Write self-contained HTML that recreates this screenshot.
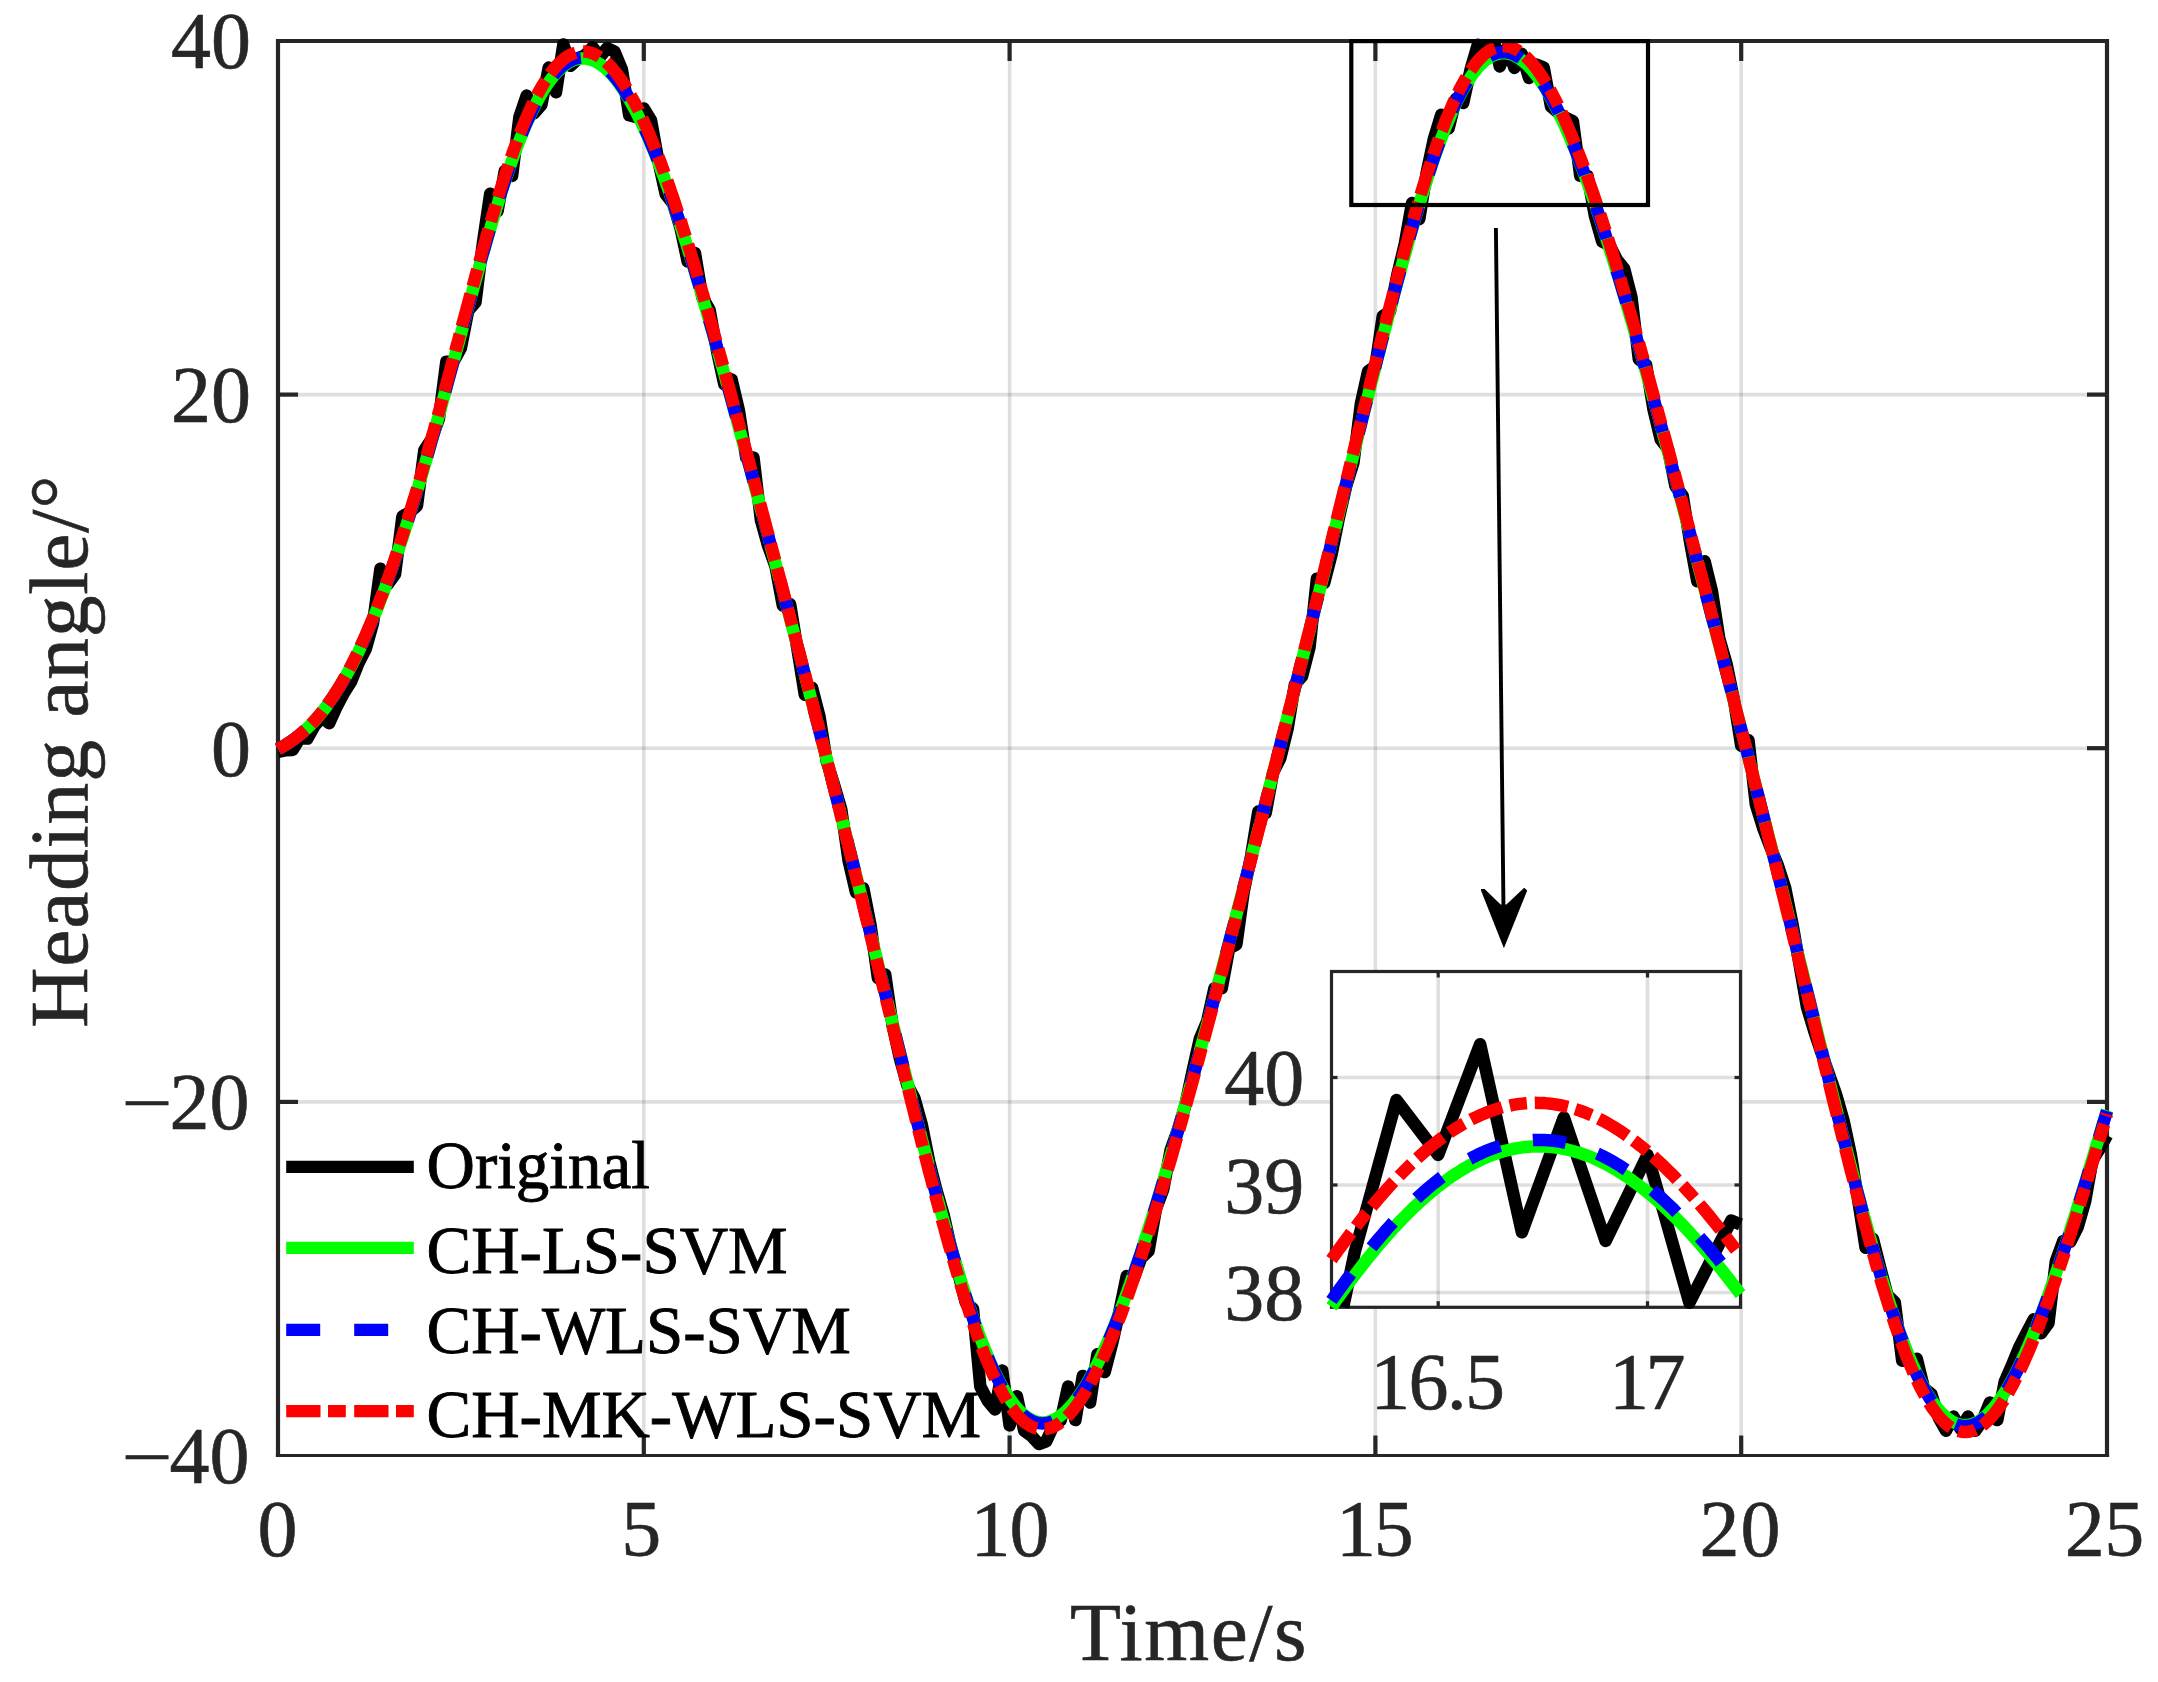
<!DOCTYPE html>
<html><head><meta charset="utf-8"><title>Heading angle</title>
<style>html,body{margin:0;padding:0;background:#fff;overflow:hidden}svg{display:block}</style></head>
<body>
<svg width="2158" height="1682" viewBox="0 0 2158 1682">
<rect width="2158" height="1682" fill="#fff"/>
<g stroke="#262626" stroke-opacity="0.15" stroke-width="3.6" fill="none">
<line x1="643.8" y1="41.0" x2="643.8" y2="1455.5"/>
<line x1="1009.6" y1="41.0" x2="1009.6" y2="1455.5"/>
<line x1="1375.4" y1="41.0" x2="1375.4" y2="1455.5"/>
<line x1="1741.2" y1="41.0" x2="1741.2" y2="1455.5"/>
<line x1="278.0" y1="394.6" x2="2107.0" y2="394.6"/>
<line x1="278.0" y1="748.2" x2="2107.0" y2="748.2"/>
<line x1="278.0" y1="1101.9" x2="2107.0" y2="1101.9"/>
</g>
<g stroke="#262626" stroke-width="4.2" fill="none">
<path d="M278.0 1457.0 V41.0 H2107.0 V1457.0"/>
<line x1="275.9" y1="1455.50" x2="2109.1" y2="1455.50" stroke-width="3.1"/>
<line x1="643.8" y1="1455.5" x2="643.8" y2="1435.5"/>
<line x1="643.8" y1="41.0" x2="643.8" y2="61.0"/>
<line x1="1009.6" y1="1455.5" x2="1009.6" y2="1435.5"/>
<line x1="1009.6" y1="41.0" x2="1009.6" y2="61.0"/>
<line x1="1375.4" y1="1455.5" x2="1375.4" y2="1435.5"/>
<line x1="1375.4" y1="41.0" x2="1375.4" y2="61.0"/>
<line x1="1741.2" y1="1455.5" x2="1741.2" y2="1435.5"/>
<line x1="1741.2" y1="41.0" x2="1741.2" y2="61.0"/>
<line x1="278.0" y1="394.6" x2="298.0" y2="394.6"/>
<line x1="2107.0" y1="394.6" x2="2087.0" y2="394.6"/>
<line x1="278.0" y1="748.2" x2="298.0" y2="748.2"/>
<line x1="2107.0" y1="748.2" x2="2087.0" y2="748.2"/>
<line x1="278.0" y1="1101.9" x2="298.0" y2="1101.9"/>
<line x1="2107.0" y1="1101.9" x2="2087.0" y2="1101.9"/>
</g>
<g fill="none" stroke-width="12.5" stroke-linejoin="round">
<path stroke="#000" d="M278.0 751.8 L285.3 750.3 L292.6 749.9 L299.9 738.0 L307.3 738.6 L314.6 725.7 L321.9 717.1 L329.2 723.3 L336.5 707.0 L343.8 693.1 L351.2 681.4 L358.5 663.1 L365.8 648.9 L373.1 622.7 L380.4 568.8 L387.7 584.3 L395.1 574.0 L402.4 516.5 L409.7 512.2 L417.0 505.8 L424.3 450.2 L431.6 439.2 L439.0 418.3 L446.3 361.7 L453.6 361.4 L460.9 348.0 L468.2 310.8 L475.5 302.3 L482.8 243.7 L490.2 193.7 L497.5 211.4 L504.8 170.8 L512.1 175.9 L519.4 117.0 L526.7 95.6 L534.1 113.2 L541.4 104.9 L548.7 67.6 L556.0 92.3 L563.3 44.5 L570.6 65.8 L578.0 58.7 L585.3 55.1 L592.6 47.2 L599.9 56.9 L607.2 48.1 L614.5 51.6 L621.9 69.3 L629.2 115.3 L636.5 117.1 L643.8 108.5 L651.1 120.6 L658.4 161.1 L665.7 194.2 L673.1 203.8 L680.4 227.6 L687.7 261.6 L695.0 253.1 L702.3 297.2 L709.6 309.9 L717.0 351.0 L724.3 384.3 L731.6 379.3 L738.9 410.5 L746.2 457.8 L753.5 457.6 L760.9 520.1 L768.2 546.2 L775.5 566.3 L782.8 605.5 L790.1 604.1 L797.4 649.1 L804.8 694.8 L812.1 687.8 L819.4 716.0 L826.7 761.2 L834.0 784.6 L841.3 809.6 L848.6 860.9 L856.0 892.4 L863.3 888.3 L870.6 925.4 L877.9 978.1 L885.2 974.4 L892.5 1024.9 L899.9 1058.3 L907.2 1084.8 L914.5 1098.3 L921.8 1124.7 L929.1 1161.3 L936.4 1190.0 L943.8 1215.5 L951.1 1248.0 L958.4 1273.4 L965.7 1302.6 L973.0 1308.7 L980.3 1386.5 L987.7 1400.7 L995.0 1409.5 L1002.3 1370.6 L1009.6 1425.4 L1016.9 1396.3 L1024.2 1430.7 L1031.5 1436.1 L1038.9 1444.0 L1046.2 1441.4 L1053.5 1425.4 L1060.8 1420.1 L1068.1 1386.5 L1075.4 1420.1 L1082.8 1375.9 L1090.1 1402.5 L1097.4 1354.2 L1104.7 1372.1 L1112.0 1344.0 L1119.3 1311.9 L1126.7 1276.0 L1134.0 1277.5 L1141.3 1257.9 L1148.6 1251.0 L1155.9 1209.2 L1163.2 1189.5 L1170.6 1150.2 L1177.9 1129.7 L1185.2 1105.8 L1192.5 1071.2 L1199.8 1038.9 L1207.1 1021.5 L1214.4 988.4 L1221.8 988.2 L1229.1 948.5 L1236.4 944.5 L1243.7 891.7 L1251.0 856.5 L1258.3 811.6 L1265.7 813.1 L1273.0 772.8 L1280.3 758.2 L1287.6 728.7 L1294.9 684.3 L1302.2 676.0 L1309.6 646.9 L1316.9 578.7 L1324.2 583.0 L1331.5 554.8 L1338.8 518.3 L1346.1 486.5 L1353.5 462.3 L1360.8 404.2 L1368.1 371.1 L1375.4 366.3 L1382.7 316.3 L1390.0 311.4 L1397.3 275.0 L1404.7 244.3 L1412.0 203.0 L1419.3 219.1 L1426.6 173.0 L1433.9 138.8 L1441.2 114.7 L1448.6 128.4 L1455.9 98.9 L1463.2 102.9 L1470.5 69.8 L1477.8 44.7 L1485.1 53.7 L1490.3 41.0 M1493.8 41.0 L1499.8 66.5 L1507.1 47.5 L1514.4 67.9 L1521.7 53.7 L1529.0 78.0 L1536.4 64.5 L1543.7 67.5 L1551.0 106.6 L1558.3 112.8 L1565.6 117.8 L1572.9 121.1 L1580.2 175.7 L1587.6 176.0 L1594.9 216.1 L1602.2 241.6 L1609.5 245.0 L1616.8 259.6 L1624.1 268.6 L1631.5 297.2 L1638.8 359.3 L1646.1 364.8 L1653.4 409.1 L1660.7 439.5 L1668.0 449.0 L1675.4 486.1 L1682.7 495.7 L1690.0 541.5 L1697.3 581.3 L1704.6 561.2 L1711.9 591.0 L1719.3 638.8 L1726.6 663.9 L1733.9 699.7 L1741.2 745.8 L1748.5 740.2 L1755.8 804.3 L1763.1 828.0 L1770.5 847.3 L1777.8 865.2 L1785.1 887.6 L1792.4 923.7 L1799.7 965.5 L1807.0 1007.3 L1814.4 1031.7 L1821.7 1053.5 L1829.0 1074.3 L1836.3 1095.1 L1843.6 1120.8 L1850.9 1155.0 L1858.3 1200.8 L1865.6 1247.7 L1872.9 1238.8 L1880.2 1267.6 L1887.5 1295.3 L1894.8 1302.2 L1902.2 1360.7 L1909.5 1360.1 L1916.8 1358.8 L1924.1 1388.4 L1931.4 1394.2 L1938.7 1417.6 L1946.0 1430.7 L1953.4 1416.6 L1960.7 1429.0 L1968.0 1416.6 L1975.3 1430.7 L1982.6 1420.1 L1989.9 1402.5 L1997.3 1420.1 L2004.6 1382.1 L2011.9 1365.2 L2019.2 1347.3 L2026.5 1333.1 L2033.8 1319.2 L2041.2 1333.2 L2048.5 1323.0 L2055.8 1261.4 L2063.1 1241.3 L2070.4 1241.6 L2077.7 1227.2 L2085.1 1201.6 L2092.4 1160.5 L2099.7 1148.8 L2107.0 1135.2"/>
<path stroke="#0f0" d="M278.0 749.1 L279.8 748.1 L281.7 747.1 L283.5 746.1 L285.3 745.0 L287.1 743.9 L289.0 742.7 L290.8 741.5 L292.6 740.2 L294.5 738.9 L296.3 737.5 L298.1 736.1 L299.9 734.6 L301.8 733.1 L303.6 731.5 L305.4 729.9 L307.3 728.2 L309.1 726.4 L310.9 724.6 L312.8 722.7 L314.6 720.7 L316.4 718.7 L318.2 716.6 L320.1 714.4 L321.9 712.2 L323.7 709.9 L325.6 707.5 L327.4 705.1 L329.2 702.5 L331.0 699.9 L332.9 697.3 L334.7 694.5 L336.5 691.7 L338.4 688.8 L340.2 685.8 L342.0 682.8 L343.8 679.6 L345.7 676.4 L347.5 673.1 L349.3 669.8 L351.2 666.3 L353.0 662.8 L354.8 659.2 L356.6 655.5 L358.5 651.7 L360.3 647.9 L362.1 643.9 L364.0 639.9 L365.8 635.8 L367.6 631.7 L369.4 627.4 L371.3 623.1 L373.1 618.7 L374.9 614.2 L376.8 609.7 L378.6 605.0 L380.4 600.3 L382.3 595.5 L384.1 590.7 L385.9 585.7 L387.7 580.7 L389.6 575.6 L391.4 570.5 L393.2 565.2 L395.1 559.9 L396.9 554.6 L398.7 549.1 L400.5 543.6 L402.4 538.1 L404.2 532.4 L406.0 526.7 L407.9 521.0 L409.7 515.1 L411.5 509.3 L413.3 503.3 L415.2 497.3 L417.0 491.3 L418.8 485.1 L420.7 479.0 L422.5 472.8 L424.3 466.5 L426.1 460.2 L428.0 453.9 L429.8 447.5 L431.6 441.0 L433.5 434.5 L435.3 428.0 L437.1 421.5 L439.0 414.9 L440.8 408.3 L442.6 401.6 L444.4 395.0 L446.3 388.3 L448.1 381.6 L449.9 374.8 L451.8 368.1 L453.6 361.3 L455.4 354.6 L457.2 347.8 L459.1 341.0 L460.9 334.3 L462.7 327.5 L464.6 320.7 L466.4 314.0 L468.2 307.3 L470.0 300.5 L471.9 293.8 L473.7 287.2 L475.5 280.5 L477.4 273.9 L479.2 267.4 L481.0 260.9 L482.8 254.4 L484.7 248.0 L486.5 241.6 L488.3 235.3 L490.2 229.0 L492.0 222.8 L493.8 216.7 L495.7 210.7 L497.5 204.8 L499.3 198.9 L501.1 193.1 L503.0 187.4 L504.8 181.8 L506.6 176.3 L508.5 170.9 L510.3 165.6 L512.1 160.5 L513.9 155.4 L515.8 150.4 L517.6 145.6 L519.4 140.8 L521.3 136.2 L523.1 131.7 L524.9 127.4 L526.7 123.1 L528.6 119.0 L530.4 115.0 L532.2 111.2 L534.1 107.5 L535.9 103.9 L537.7 100.4 L539.5 97.1 L541.4 93.9 L543.2 90.8 L545.0 87.9 L546.9 85.1 L548.7 82.5 L550.5 80.0 L552.3 77.6 L554.2 75.4 L556.0 73.3 L557.8 71.4 L559.7 69.6 L561.5 67.9 L563.3 66.4 L565.2 65.0 L567.0 63.7 L568.8 62.6 L570.6 61.6 L572.5 60.7 L574.3 60.0 L576.1 59.5 L578.0 59.0 L579.8 58.7 L581.6 58.5 L583.4 58.5 L585.3 58.6 L587.1 58.8 L588.9 59.2 L590.8 59.7 L592.6 60.3 L594.4 61.1 L596.2 61.9 L598.1 63.0 L599.9 64.1 L601.7 65.4 L603.6 66.8 L605.4 68.3 L607.2 70.0 L609.0 71.7 L610.9 73.6 L612.7 75.6 L614.5 77.8 L616.4 80.1 L618.2 82.4 L620.0 84.9 L621.9 87.6 L623.7 90.3 L625.5 93.2 L627.3 96.1 L629.2 99.2 L631.0 102.4 L632.8 105.7 L634.7 109.1 L636.5 112.6 L638.3 116.2 L640.1 120.0 L642.0 123.8 L643.8 127.7 L645.6 131.7 L647.5 135.9 L649.3 140.1 L651.1 144.4 L652.9 148.8 L654.8 153.3 L656.6 157.9 L658.4 162.6 L660.3 167.4 L662.1 172.3 L663.9 177.2 L665.7 182.2 L667.6 187.3 L669.4 192.5 L671.2 197.8 L673.1 203.1 L674.9 208.5 L676.7 214.0 L678.6 219.5 L680.4 225.1 L682.2 230.8 L684.0 236.5 L685.9 242.3 L687.7 248.1 L689.5 254.0 L691.4 260.0 L693.2 266.0 L695.0 272.1 L696.8 278.2 L698.7 284.3 L700.5 290.5 L702.3 296.7 L704.2 303.0 L706.0 309.3 L707.8 315.6 L709.6 322.0 L711.5 328.4 L713.3 334.8 L715.1 341.3 L717.0 347.8 L718.8 354.3 L720.6 360.8 L722.4 367.4 L724.3 374.0 L726.1 380.6 L727.9 387.2 L729.8 393.9 L731.6 400.5 L733.4 407.2 L735.2 413.9 L737.1 420.6 L738.9 427.3 L740.7 434.1 L742.6 440.8 L744.4 447.6 L746.2 454.3 L748.1 461.1 L749.9 467.9 L751.7 474.7 L753.5 481.5 L755.4 488.3 L757.2 495.1 L759.0 502.0 L760.9 508.8 L762.7 515.6 L764.5 522.5 L766.3 529.3 L768.2 536.2 L770.0 543.0 L771.8 549.9 L773.7 556.7 L775.5 563.6 L777.3 570.5 L779.1 577.4 L781.0 584.2 L782.8 591.1 L784.6 598.0 L786.5 604.9 L788.3 611.8 L790.1 618.8 L791.9 625.7 L793.8 632.6 L795.6 639.5 L797.4 646.5 L799.3 653.4 L801.1 660.4 L802.9 667.4 L804.8 674.4 L806.6 681.4 L808.4 688.4 L810.2 695.4 L812.1 702.4 L813.9 709.5 L815.7 716.5 L817.6 723.6 L819.4 730.7 L821.2 737.8 L823.0 744.9 L824.9 752.0 L826.7 759.1 L828.5 766.3 L830.4 773.4 L832.2 780.6 L834.0 787.8 L835.8 795.0 L837.7 802.2 L839.5 809.4 L841.3 816.7 L843.2 823.9 L845.0 831.2 L846.8 838.5 L848.6 845.7 L850.5 853.0 L852.3 860.3 L854.1 867.7 L856.0 875.0 L857.8 882.3 L859.6 889.7 L861.5 897.0 L863.3 904.4 L865.1 911.8 L866.9 919.1 L868.8 926.5 L870.6 933.9 L872.4 941.3 L874.3 948.7 L876.1 956.1 L877.9 963.5 L879.7 970.9 L881.6 978.3 L883.4 985.7 L885.2 993.1 L887.1 1000.5 L888.9 1007.9 L890.7 1015.3 L892.5 1022.7 L894.4 1030.1 L896.2 1037.5 L898.0 1044.9 L899.9 1052.2 L901.7 1059.6 L903.5 1066.9 L905.3 1074.2 L907.2 1081.5 L909.0 1088.8 L910.8 1096.1 L912.7 1103.3 L914.5 1110.6 L916.3 1117.8 L918.1 1124.9 L920.0 1132.1 L921.8 1139.2 L923.6 1146.3 L925.5 1153.3 L927.3 1160.4 L929.1 1167.3 L931.0 1174.3 L932.8 1181.2 L934.6 1188.0 L936.4 1194.9 L938.3 1201.6 L940.1 1208.3 L941.9 1215.0 L943.8 1221.6 L945.6 1228.1 L947.4 1234.6 L949.2 1241.0 L951.1 1247.4 L952.9 1253.7 L954.7 1259.9 L956.6 1266.0 L958.4 1272.1 L960.2 1278.1 L962.0 1284.0 L963.9 1289.8 L965.7 1295.5 L967.5 1301.1 L969.4 1306.7 L971.2 1312.1 L973.0 1317.4 L974.8 1322.7 L976.7 1327.8 L978.5 1332.8 L980.3 1337.7 L982.2 1342.5 L984.0 1347.1 L985.8 1351.6 L987.7 1356.0 L989.5 1360.3 L991.3 1364.5 L993.1 1368.5 L995.0 1372.4 L996.8 1376.1 L998.6 1379.7 L1000.5 1383.2 L1002.3 1386.5 L1004.1 1389.7 L1005.9 1392.7 L1007.8 1395.6 L1009.6 1398.4 L1011.4 1401.0 L1013.3 1403.4 L1015.1 1405.8 L1016.9 1407.9 L1018.7 1409.9 L1020.6 1411.8 L1022.4 1413.5 L1024.2 1415.0 L1026.1 1416.4 L1027.9 1417.7 L1029.7 1418.8 L1031.5 1419.8 L1033.4 1420.6 L1035.2 1421.2 L1037.0 1421.7 L1038.9 1422.1 L1040.7 1422.3 L1042.5 1422.4 L1044.4 1422.3 L1046.2 1422.1 L1048.0 1421.8 L1049.8 1421.3 L1051.7 1420.6 L1053.5 1419.9 L1055.3 1419.0 L1057.2 1417.9 L1059.0 1416.7 L1060.8 1415.4 L1062.6 1414.0 L1064.5 1412.4 L1066.3 1410.8 L1068.1 1408.9 L1070.0 1407.0 L1071.8 1404.9 L1073.6 1402.7 L1075.4 1400.4 L1077.3 1398.0 L1079.1 1395.5 L1080.9 1392.8 L1082.8 1390.0 L1084.6 1387.1 L1086.4 1384.1 L1088.2 1381.0 L1090.1 1377.8 L1091.9 1374.5 L1093.7 1371.0 L1095.6 1367.5 L1097.4 1363.9 L1099.2 1360.2 L1101.1 1356.3 L1102.9 1352.4 L1104.7 1348.4 L1106.5 1344.3 L1108.4 1340.1 L1110.2 1335.8 L1112.0 1331.4 L1113.9 1326.9 L1115.7 1322.4 L1117.5 1317.8 L1119.3 1313.1 L1121.2 1308.3 L1123.0 1303.4 L1124.8 1298.5 L1126.7 1293.5 L1128.5 1288.4 L1130.3 1283.3 L1132.1 1278.1 L1134.0 1272.8 L1135.8 1267.4 L1137.6 1262.0 L1139.5 1256.6 L1141.3 1251.1 L1143.1 1245.5 L1144.9 1239.9 L1146.8 1234.2 L1148.6 1228.4 L1150.4 1222.6 L1152.3 1216.8 L1154.1 1210.9 L1155.9 1205.0 L1157.7 1199.0 L1159.6 1193.0 L1161.4 1186.9 L1163.2 1180.8 L1165.1 1174.7 L1166.9 1168.5 L1168.7 1162.3 L1170.6 1156.0 L1172.4 1149.7 L1174.2 1143.4 L1176.0 1137.0 L1177.9 1130.6 L1179.7 1124.2 L1181.5 1117.7 L1183.4 1111.2 L1185.2 1104.7 L1187.0 1098.2 L1188.8 1091.6 L1190.7 1085.0 L1192.5 1078.4 L1194.3 1071.8 L1196.2 1065.1 L1198.0 1058.5 L1199.8 1051.8 L1201.6 1045.0 L1203.5 1038.3 L1205.3 1031.5 L1207.1 1024.8 L1209.0 1018.0 L1210.8 1011.2 L1212.6 1004.3 L1214.4 997.5 L1216.3 990.7 L1218.1 983.8 L1219.9 976.9 L1221.8 970.0 L1223.6 963.1 L1225.4 956.2 L1227.3 949.3 L1229.1 942.4 L1230.9 935.4 L1232.7 928.5 L1234.6 921.5 L1236.4 914.5 L1238.2 907.5 L1240.1 900.5 L1241.9 893.5 L1243.7 886.5 L1245.5 879.5 L1247.4 872.5 L1249.2 865.5 L1251.0 858.5 L1252.9 851.4 L1254.7 844.4 L1256.5 837.3 L1258.3 830.3 L1260.2 823.2 L1262.0 816.1 L1263.8 809.1 L1265.7 802.0 L1267.5 794.9 L1269.3 787.8 L1271.1 780.7 L1273.0 773.6 L1274.8 766.5 L1276.6 759.4 L1278.5 752.3 L1280.3 745.2 L1282.1 738.0 L1284.0 730.9 L1285.8 723.8 L1287.6 716.6 L1289.4 709.5 L1291.3 702.3 L1293.1 695.2 L1294.9 688.0 L1296.8 680.8 L1298.6 673.7 L1300.4 666.5 L1302.2 659.3 L1304.1 652.1 L1305.9 644.8 L1307.7 637.6 L1309.6 630.4 L1311.4 623.2 L1313.2 615.9 L1315.0 608.6 L1316.9 601.4 L1318.7 594.1 L1320.5 586.8 L1322.4 579.5 L1324.2 572.2 L1326.0 564.9 L1327.8 557.6 L1329.7 550.3 L1331.5 542.9 L1333.3 535.6 L1335.2 528.2 L1337.0 520.9 L1338.8 513.5 L1340.6 506.2 L1342.5 498.8 L1344.3 491.4 L1346.1 484.1 L1348.0 476.7 L1349.8 469.3 L1351.6 462.0 L1353.5 454.6 L1355.3 447.2 L1357.1 439.9 L1358.9 432.5 L1360.8 425.2 L1362.6 417.8 L1364.4 410.5 L1366.3 403.2 L1368.1 395.9 L1369.9 388.6 L1371.7 381.3 L1373.6 374.1 L1375.4 366.9 L1377.2 359.6 L1379.1 352.5 L1380.9 345.3 L1382.7 338.2 L1384.5 331.0 L1386.4 324.0 L1388.2 316.9 L1390.0 309.9 L1391.9 302.9 L1393.7 296.0 L1395.5 289.1 L1397.3 282.3 L1399.2 275.5 L1401.0 268.7 L1402.8 262.0 L1404.7 255.4 L1406.5 248.8 L1408.3 242.3 L1410.2 235.8 L1412.0 229.4 L1413.8 223.1 L1415.6 216.8 L1417.5 210.7 L1419.3 204.6 L1421.1 198.5 L1423.0 192.6 L1424.8 186.7 L1426.6 181.0 L1428.4 175.3 L1430.3 169.7 L1432.1 164.3 L1433.9 158.9 L1435.8 153.6 L1437.6 148.5 L1439.4 143.4 L1441.2 138.5 L1443.1 133.7 L1444.9 129.0 L1446.7 124.4 L1448.6 120.0 L1450.4 115.7 L1452.2 111.5 L1454.0 107.5 L1455.9 103.6 L1457.7 99.8 L1459.5 96.2 L1461.4 92.7 L1463.2 89.3 L1465.0 86.1 L1466.9 83.1 L1468.7 80.2 L1470.5 77.4 L1472.3 74.8 L1474.2 72.3 L1476.0 70.0 L1477.8 67.8 L1479.7 65.8 L1481.5 63.9 L1483.3 62.2 L1485.1 60.6 L1487.0 59.2 L1488.8 57.9 L1490.6 56.8 L1492.5 55.9 L1494.3 55.0 L1496.1 54.4 L1497.9 53.9 L1499.8 53.5 L1501.6 53.3 L1503.4 53.2 L1505.3 53.2 L1507.1 53.5 L1508.9 53.8 L1510.7 54.3 L1512.6 54.9 L1514.4 55.7 L1516.2 56.6 L1518.1 57.7 L1519.9 58.8 L1521.7 60.2 L1523.5 61.6 L1525.4 63.2 L1527.2 64.9 L1529.0 66.7 L1530.9 68.7 L1532.7 70.8 L1534.5 73.0 L1536.4 75.3 L1538.2 77.7 L1540.0 80.3 L1541.8 83.0 L1543.7 85.8 L1545.5 88.7 L1547.3 91.7 L1549.2 94.9 L1551.0 98.1 L1552.8 101.5 L1554.6 104.9 L1556.5 108.5 L1558.3 112.2 L1560.1 115.9 L1562.0 119.8 L1563.8 123.7 L1565.6 127.8 L1567.4 131.9 L1569.3 136.2 L1571.1 140.5 L1572.9 144.9 L1574.8 149.4 L1576.6 154.0 L1578.4 158.6 L1580.2 163.4 L1582.1 168.2 L1583.9 173.1 L1585.7 178.0 L1587.6 183.1 L1589.4 188.2 L1591.2 193.3 L1593.1 198.6 L1594.9 203.9 L1596.7 209.3 L1598.5 214.7 L1600.4 220.2 L1602.2 225.7 L1604.0 231.3 L1605.9 237.0 L1607.7 242.7 L1609.5 248.4 L1611.3 254.2 L1613.2 260.1 L1615.0 266.0 L1616.8 271.9 L1618.7 277.9 L1620.5 284.0 L1622.3 290.0 L1624.1 296.2 L1626.0 302.3 L1627.8 308.5 L1629.6 314.7 L1631.5 321.0 L1633.3 327.3 L1635.1 333.6 L1636.9 340.0 L1638.8 346.4 L1640.6 352.8 L1642.4 359.3 L1644.3 365.7 L1646.1 372.2 L1647.9 378.8 L1649.8 385.3 L1651.6 391.9 L1653.4 398.5 L1655.2 405.1 L1657.1 411.8 L1658.9 418.4 L1660.7 425.1 L1662.6 431.8 L1664.4 438.5 L1666.2 445.2 L1668.0 452.0 L1669.9 458.7 L1671.7 465.5 L1673.5 472.3 L1675.4 479.1 L1677.2 485.9 L1679.0 492.7 L1680.8 499.6 L1682.7 506.4 L1684.5 513.3 L1686.3 520.1 L1688.2 527.0 L1690.0 533.9 L1691.8 540.8 L1693.6 547.7 L1695.5 554.6 L1697.3 561.5 L1699.1 568.5 L1701.0 575.4 L1702.8 582.3 L1704.6 589.3 L1706.4 596.2 L1708.3 603.2 L1710.1 610.2 L1711.9 617.1 L1713.8 624.1 L1715.6 631.1 L1717.4 638.1 L1719.3 645.1 L1721.1 652.1 L1722.9 659.1 L1724.7 666.1 L1726.6 673.1 L1728.4 680.1 L1730.2 687.1 L1732.1 694.2 L1733.9 701.2 L1735.7 708.2 L1737.5 715.3 L1739.4 722.4 L1741.2 729.4 L1743.0 736.5 L1744.9 743.6 L1746.7 750.7 L1748.5 757.7 L1750.3 764.9 L1752.2 772.0 L1754.0 779.1 L1755.8 786.2 L1757.7 793.4 L1759.5 800.5 L1761.3 807.7 L1763.1 814.9 L1765.0 822.0 L1766.8 829.2 L1768.6 836.5 L1770.5 843.7 L1772.3 850.9 L1774.1 858.2 L1776.0 865.4 L1777.8 872.7 L1779.6 880.0 L1781.4 887.3 L1783.3 894.6 L1785.1 902.0 L1786.9 909.3 L1788.8 916.7 L1790.6 924.0 L1792.4 931.4 L1794.2 938.8 L1796.1 946.2 L1797.9 953.6 L1799.7 961.0 L1801.6 968.4 L1803.4 975.8 L1805.2 983.2 L1807.0 990.7 L1808.9 998.1 L1810.7 1005.5 L1812.5 1013.0 L1814.4 1020.4 L1816.2 1027.9 L1818.0 1035.3 L1819.8 1042.7 L1821.7 1050.1 L1823.5 1057.5 L1825.3 1064.9 L1827.2 1072.3 L1829.0 1079.7 L1830.8 1087.1 L1832.6 1094.4 L1834.5 1101.8 L1836.3 1109.1 L1838.1 1116.4 L1840.0 1123.7 L1841.8 1130.9 L1843.6 1138.1 L1845.5 1145.3 L1847.3 1152.5 L1849.1 1159.6 L1850.9 1166.7 L1852.8 1173.7 L1854.6 1180.7 L1856.4 1187.7 L1858.3 1194.6 L1860.1 1201.5 L1861.9 1208.3 L1863.7 1215.0 L1865.6 1221.7 L1867.4 1228.4 L1869.2 1234.9 L1871.1 1241.4 L1872.9 1247.9 L1874.7 1254.2 L1876.5 1260.5 L1878.4 1266.7 L1880.2 1272.9 L1882.0 1278.9 L1883.9 1284.9 L1885.7 1290.7 L1887.5 1296.5 L1889.3 1302.2 L1891.2 1307.7 L1893.0 1313.2 L1894.8 1318.5 L1896.7 1323.8 L1898.5 1328.9 L1900.3 1333.9 L1902.2 1338.9 L1904.0 1343.6 L1905.8 1348.3 L1907.6 1352.9 L1909.5 1357.3 L1911.3 1361.6 L1913.1 1365.7 L1915.0 1369.8 L1916.8 1373.7 L1918.6 1377.4 L1920.4 1381.1 L1922.3 1384.6 L1924.1 1387.9 L1925.9 1391.1 L1927.8 1394.2 L1929.6 1397.2 L1931.4 1400.0 L1933.2 1402.6 L1935.1 1405.1 L1936.9 1407.5 L1938.7 1409.7 L1940.6 1411.8 L1942.4 1413.7 L1944.2 1415.4 L1946.0 1417.1 L1947.9 1418.5 L1949.7 1419.9 L1951.5 1421.0 L1953.4 1422.1 L1955.2 1423.0 L1957.0 1423.7 L1958.9 1424.3 L1960.7 1424.7 L1962.5 1425.0 L1964.3 1425.1 L1966.2 1425.1 L1968.0 1425.0 L1969.8 1424.6 L1971.7 1424.2 L1973.5 1423.6 L1975.3 1422.9 L1977.1 1422.0 L1979.0 1421.0 L1980.8 1419.8 L1982.6 1418.5 L1984.5 1417.1 L1986.3 1415.5 L1988.1 1413.8 L1989.9 1411.9 L1991.8 1409.9 L1993.6 1407.8 L1995.4 1405.6 L1997.3 1403.2 L1999.1 1400.8 L2000.9 1398.1 L2002.7 1395.4 L2004.6 1392.6 L2006.4 1389.6 L2008.2 1386.5 L2010.1 1383.3 L2011.9 1380.0 L2013.7 1376.6 L2015.5 1373.1 L2017.4 1369.5 L2019.2 1365.8 L2021.0 1362.0 L2022.9 1358.1 L2024.7 1354.1 L2026.5 1350.0 L2028.4 1345.8 L2030.2 1341.5 L2032.0 1337.2 L2033.8 1332.7 L2035.7 1328.2 L2037.5 1323.6 L2039.3 1318.9 L2041.2 1314.2 L2043.0 1309.4 L2044.8 1304.5 L2046.6 1299.5 L2048.5 1294.5 L2050.3 1289.4 L2052.1 1284.2 L2054.0 1279.0 L2055.8 1273.7 L2057.6 1268.4 L2059.4 1263.0 L2061.3 1257.6 L2063.1 1252.1 L2064.9 1246.6 L2066.8 1241.0 L2068.6 1235.4 L2070.4 1229.7 L2072.2 1224.0 L2074.1 1218.3 L2075.9 1212.5 L2077.7 1206.7 L2079.6 1200.8 L2081.4 1194.9 L2083.2 1189.0 L2085.1 1183.1 L2086.9 1177.1 L2088.7 1171.1 L2090.5 1165.1 L2092.4 1159.1 L2094.2 1153.0 L2096.0 1147.0 L2097.9 1140.9 L2099.7 1134.8 L2101.5 1128.7 L2103.3 1122.6 L2105.2 1116.4 L2107.0 1110.3"/>
<path stroke="#00f" stroke-dasharray="33.585 33.585" d="M278.0 749.1 L279.8 748.1 L281.7 747.1 L283.5 746.1 L285.3 745.0 L287.1 743.9 L289.0 742.7 L290.8 741.5 L292.6 740.2 L294.5 738.9 L296.3 737.5 L298.1 736.1 L299.9 734.6 L301.8 733.1 L303.6 731.5 L305.4 729.9 L307.3 728.1 L309.1 726.4 L310.9 724.5 L312.8 722.6 L314.6 720.7 L316.4 718.6 L318.2 716.5 L320.1 714.4 L321.9 712.1 L323.7 709.8 L325.6 707.5 L327.4 705.0 L329.2 702.5 L331.0 699.9 L332.9 697.2 L334.7 694.4 L336.5 691.6 L338.4 688.7 L340.2 685.7 L342.0 682.7 L343.8 679.5 L345.7 676.3 L347.5 673.0 L349.3 669.6 L351.2 666.2 L353.0 662.7 L354.8 659.0 L356.6 655.3 L358.5 651.6 L360.3 647.7 L362.1 643.8 L364.0 639.8 L365.8 635.7 L367.6 631.5 L369.4 627.3 L371.3 622.9 L373.1 618.5 L374.9 614.0 L376.8 609.5 L378.6 604.8 L380.4 600.1 L382.3 595.3 L384.1 590.4 L385.9 585.5 L387.7 580.5 L389.6 575.4 L391.4 570.2 L393.2 565.0 L395.1 559.7 L396.9 554.3 L398.7 548.8 L400.5 543.3 L402.4 537.7 L404.2 532.1 L406.0 526.4 L407.9 520.6 L409.7 514.8 L411.5 508.9 L413.3 502.9 L415.2 496.9 L417.0 490.9 L418.8 484.8 L420.7 478.6 L422.5 472.4 L424.3 466.1 L426.1 459.8 L428.0 453.4 L429.8 447.0 L431.6 440.6 L433.5 434.1 L435.3 427.5 L437.1 421.0 L439.0 414.4 L440.8 407.8 L442.6 401.1 L444.4 394.4 L446.3 387.7 L448.1 381.0 L449.9 374.3 L451.8 367.5 L453.6 360.7 L455.4 354.0 L457.2 347.2 L459.1 340.4 L460.9 333.6 L462.7 326.9 L464.6 320.1 L466.4 313.3 L468.2 306.6 L470.0 299.9 L471.9 293.2 L473.7 286.5 L475.5 279.8 L477.4 273.2 L479.2 266.7 L481.0 260.1 L482.8 253.6 L484.7 247.2 L486.5 240.8 L488.3 234.5 L490.2 228.2 L492.0 222.0 L493.8 215.9 L495.7 209.9 L497.5 203.9 L499.3 198.1 L501.1 192.3 L503.0 186.6 L504.8 181.0 L506.6 175.5 L508.5 170.1 L510.3 164.8 L512.1 159.6 L513.9 154.5 L515.8 149.5 L517.6 144.7 L519.4 139.9 L521.3 135.3 L523.1 130.8 L524.9 126.4 L526.7 122.2 L528.6 118.1 L530.4 114.1 L532.2 110.2 L534.1 106.5 L535.9 102.9 L537.7 99.4 L539.5 96.1 L541.4 92.9 L543.2 89.8 L545.0 86.9 L546.9 84.1 L548.7 81.5 L550.5 79.0 L552.3 76.6 L554.2 74.4 L556.0 72.3 L557.8 70.4 L559.7 68.5 L561.5 66.9 L563.3 65.3 L565.2 63.9 L567.0 62.7 L568.8 61.5 L570.6 60.6 L572.5 59.7 L574.3 59.0 L576.1 58.4 L578.0 58.0 L579.8 57.7 L581.6 57.5 L583.4 57.4 L585.3 57.5 L587.1 57.8 L588.9 58.1 L590.8 58.6 L592.6 59.3 L594.4 60.0 L596.2 60.9 L598.1 61.9 L599.9 63.1 L601.7 64.3 L603.6 65.7 L605.4 67.3 L607.2 68.9 L609.0 70.7 L610.9 72.6 L612.7 74.6 L614.5 76.8 L616.4 79.0 L618.2 81.4 L620.0 83.9 L621.9 86.6 L623.7 89.3 L625.5 92.2 L627.3 95.1 L629.2 98.2 L631.0 101.4 L632.8 104.7 L634.7 108.1 L636.5 111.6 L638.3 115.3 L640.1 119.0 L642.0 122.8 L643.8 126.8 L645.6 130.8 L647.5 134.9 L649.3 139.2 L651.1 143.5 L652.9 147.9 L654.8 152.4 L656.6 157.0 L658.4 161.7 L660.3 166.5 L662.1 171.4 L663.9 176.3 L665.7 181.4 L667.6 186.5 L669.4 191.7 L671.2 196.9 L673.1 202.3 L674.9 207.7 L676.7 213.2 L678.6 218.7 L680.4 224.3 L682.2 230.0 L684.0 235.7 L685.9 241.5 L687.7 247.4 L689.5 253.3 L691.4 259.3 L693.2 265.3 L695.0 271.3 L696.8 277.4 L698.7 283.6 L700.5 289.8 L702.3 296.0 L704.2 302.3 L706.0 308.6 L707.8 315.0 L709.6 321.3 L711.5 327.7 L713.3 334.2 L715.1 340.7 L717.0 347.2 L718.8 353.7 L720.6 360.2 L722.4 366.8 L724.3 373.4 L726.1 380.0 L727.9 386.7 L729.8 393.3 L731.6 400.0 L733.4 406.7 L735.2 413.4 L737.1 420.1 L738.9 426.8 L740.7 433.6 L742.6 440.3 L744.4 447.1 L746.2 453.9 L748.1 460.7 L749.9 467.5 L751.7 474.3 L753.5 481.1 L755.4 487.9 L757.2 494.7 L759.0 501.6 L760.9 508.4 L762.7 515.3 L764.5 522.1 L766.3 529.0 L768.2 535.8 L770.0 542.7 L771.8 549.6 L773.7 556.4 L775.5 563.3 L777.3 570.2 L779.1 577.1 L781.0 584.0 L782.8 590.9 L784.6 597.8 L786.5 604.7 L788.3 611.6 L790.1 618.6 L791.9 625.5 L793.8 632.4 L795.6 639.4 L797.4 646.3 L799.3 653.3 L801.1 660.3 L802.9 667.3 L804.8 674.3 L806.6 681.3 L808.4 688.3 L810.2 695.3 L812.1 702.4 L813.9 709.4 L815.7 716.5 L817.6 723.6 L819.4 730.6 L821.2 737.7 L823.0 744.9 L824.9 752.0 L826.7 759.1 L828.5 766.3 L830.4 773.5 L832.2 780.7 L834.0 787.8 L835.8 795.1 L837.7 802.3 L839.5 809.5 L841.3 816.8 L843.2 824.0 L845.0 831.3 L846.8 838.6 L848.6 845.9 L850.5 853.2 L852.3 860.5 L854.1 867.8 L856.0 875.2 L857.8 882.5 L859.6 889.9 L861.5 897.3 L863.3 904.6 L865.1 912.0 L866.9 919.4 L868.8 926.8 L870.6 934.2 L872.4 941.6 L874.3 949.0 L876.1 956.4 L877.9 963.8 L879.7 971.3 L881.6 978.7 L883.4 986.1 L885.2 993.5 L887.1 1000.9 L888.9 1008.3 L890.7 1015.7 L892.5 1023.1 L894.4 1030.5 L896.2 1037.9 L898.0 1045.3 L899.9 1052.7 L901.7 1060.0 L903.5 1067.4 L905.3 1074.7 L907.2 1082.0 L909.0 1089.3 L910.8 1096.6 L912.7 1103.9 L914.5 1111.1 L916.3 1118.3 L918.1 1125.5 L920.0 1132.7 L921.8 1139.8 L923.6 1146.9 L925.5 1154.0 L927.3 1161.0 L929.1 1168.0 L931.0 1174.9 L932.8 1181.8 L934.6 1188.7 L936.4 1195.5 L938.3 1202.3 L940.1 1209.0 L941.9 1215.7 L943.8 1222.3 L945.6 1228.9 L947.4 1235.4 L949.2 1241.8 L951.1 1248.1 L952.9 1254.4 L954.7 1260.7 L956.6 1266.8 L958.4 1272.9 L960.2 1278.9 L962.0 1284.8 L963.9 1290.6 L965.7 1296.3 L967.5 1302.0 L969.4 1307.5 L971.2 1313.0 L973.0 1318.3 L974.8 1323.5 L976.7 1328.7 L978.5 1333.7 L980.3 1338.6 L982.2 1343.4 L984.0 1348.0 L985.8 1352.6 L987.7 1357.0 L989.5 1361.3 L991.3 1365.4 L993.1 1369.4 L995.0 1373.3 L996.8 1377.1 L998.6 1380.7 L1000.5 1384.2 L1002.3 1387.5 L1004.1 1390.7 L1005.9 1393.7 L1007.8 1396.6 L1009.6 1399.4 L1011.4 1402.0 L1013.3 1404.4 L1015.1 1406.7 L1016.9 1408.9 L1018.7 1410.9 L1020.6 1412.8 L1022.4 1414.5 L1024.2 1416.0 L1026.1 1417.5 L1027.9 1418.7 L1029.7 1419.8 L1031.5 1420.8 L1033.4 1421.6 L1035.2 1422.2 L1037.0 1422.8 L1038.9 1423.1 L1040.7 1423.3 L1042.5 1423.4 L1044.4 1423.3 L1046.2 1423.1 L1048.0 1422.8 L1049.8 1422.3 L1051.7 1421.7 L1053.5 1420.9 L1055.3 1420.0 L1057.2 1418.9 L1059.0 1417.8 L1060.8 1416.5 L1062.6 1415.0 L1064.5 1413.5 L1066.3 1411.8 L1068.1 1409.9 L1070.0 1408.0 L1071.8 1405.9 L1073.6 1403.7 L1075.4 1401.4 L1077.3 1399.0 L1079.1 1396.4 L1080.9 1393.8 L1082.8 1391.0 L1084.6 1388.1 L1086.4 1385.1 L1088.2 1382.0 L1090.1 1378.8 L1091.9 1375.4 L1093.7 1372.0 L1095.6 1368.5 L1097.4 1364.8 L1099.2 1361.1 L1101.1 1357.2 L1102.9 1353.3 L1104.7 1349.3 L1106.5 1345.2 L1108.4 1341.0 L1110.2 1336.7 L1112.0 1332.3 L1113.9 1327.8 L1115.7 1323.3 L1117.5 1318.6 L1119.3 1313.9 L1121.2 1309.1 L1123.0 1304.3 L1124.8 1299.3 L1126.7 1294.3 L1128.5 1289.2 L1130.3 1284.1 L1132.1 1278.9 L1134.0 1273.6 L1135.8 1268.2 L1137.6 1262.8 L1139.5 1257.4 L1141.3 1251.8 L1143.1 1246.2 L1144.9 1240.6 L1146.8 1234.9 L1148.6 1229.2 L1150.4 1223.4 L1152.3 1217.5 L1154.1 1211.6 L1155.9 1205.7 L1157.7 1199.7 L1159.6 1193.7 L1161.4 1187.6 L1163.2 1181.5 L1165.1 1175.3 L1166.9 1169.1 L1168.7 1162.9 L1170.6 1156.6 L1172.4 1150.3 L1174.2 1144.0 L1176.0 1137.6 L1177.9 1131.2 L1179.7 1124.8 L1181.5 1118.3 L1183.4 1111.8 L1185.2 1105.3 L1187.0 1098.7 L1188.8 1092.1 L1190.7 1085.6 L1192.5 1078.9 L1194.3 1072.3 L1196.2 1065.6 L1198.0 1058.9 L1199.8 1052.2 L1201.6 1045.5 L1203.5 1038.7 L1205.3 1032.0 L1207.1 1025.2 L1209.0 1018.4 L1210.8 1011.6 L1212.6 1004.7 L1214.4 997.9 L1216.3 991.0 L1218.1 984.2 L1219.9 977.3 L1221.8 970.4 L1223.6 963.5 L1225.4 956.5 L1227.3 949.6 L1229.1 942.6 L1230.9 935.7 L1232.7 928.7 L1234.6 921.8 L1236.4 914.8 L1238.2 907.8 L1240.1 900.8 L1241.9 893.8 L1243.7 886.8 L1245.5 879.7 L1247.4 872.7 L1249.2 865.7 L1251.0 858.6 L1252.9 851.6 L1254.7 844.5 L1256.5 837.5 L1258.3 830.4 L1260.2 823.3 L1262.0 816.2 L1263.8 809.2 L1265.7 802.1 L1267.5 795.0 L1269.3 787.9 L1271.1 780.8 L1273.0 773.7 L1274.8 766.5 L1276.6 759.4 L1278.5 752.3 L1280.3 745.2 L1282.1 738.0 L1284.0 730.9 L1285.8 723.7 L1287.6 716.6 L1289.4 709.4 L1291.3 702.3 L1293.1 695.1 L1294.9 687.9 L1296.8 680.7 L1298.6 673.5 L1300.4 666.3 L1302.2 659.1 L1304.1 651.9 L1305.9 644.7 L1307.7 637.5 L1309.6 630.2 L1311.4 623.0 L1313.2 615.7 L1315.0 608.4 L1316.9 601.2 L1318.7 593.9 L1320.5 586.6 L1322.4 579.3 L1324.2 572.0 L1326.0 564.6 L1327.8 557.3 L1329.7 550.0 L1331.5 542.6 L1333.3 535.3 L1335.2 527.9 L1337.0 520.5 L1338.8 513.2 L1340.6 505.8 L1342.5 498.4 L1344.3 491.1 L1346.1 483.7 L1348.0 476.3 L1349.8 468.9 L1351.6 461.5 L1353.5 454.2 L1355.3 446.8 L1357.1 439.4 L1358.9 432.1 L1360.8 424.7 L1362.6 417.3 L1364.4 410.0 L1366.3 402.7 L1368.1 395.4 L1369.9 388.1 L1371.7 380.8 L1373.6 373.5 L1375.4 366.3 L1377.2 359.1 L1379.1 351.9 L1380.9 344.7 L1382.7 337.5 L1384.5 330.4 L1386.4 323.3 L1388.2 316.3 L1390.0 309.3 L1391.9 302.3 L1393.7 295.3 L1395.5 288.4 L1397.3 281.6 L1399.2 274.8 L1401.0 268.0 L1402.8 261.3 L1404.7 254.6 L1406.5 248.1 L1408.3 241.5 L1410.2 235.0 L1412.0 228.6 L1413.8 222.3 L1415.6 216.0 L1417.5 209.8 L1419.3 203.7 L1421.1 197.7 L1423.0 191.8 L1424.8 185.9 L1426.6 180.1 L1428.4 174.4 L1430.3 168.9 L1432.1 163.4 L1433.9 158.0 L1435.8 152.7 L1437.6 147.6 L1439.4 142.5 L1441.2 137.6 L1443.1 132.8 L1444.9 128.1 L1446.7 123.5 L1448.6 119.1 L1450.4 114.8 L1452.2 110.6 L1454.0 106.5 L1455.9 102.6 L1457.7 98.8 L1459.5 95.2 L1461.4 91.7 L1463.2 88.3 L1465.0 85.1 L1466.9 82.1 L1468.7 79.2 L1470.5 76.4 L1472.3 73.8 L1474.2 71.3 L1476.0 69.0 L1477.8 66.8 L1479.7 64.7 L1481.5 62.9 L1483.3 61.2 L1485.1 59.6 L1487.0 58.2 L1488.8 56.9 L1490.6 55.8 L1492.5 54.8 L1494.3 54.0 L1496.1 53.3 L1497.9 52.8 L1499.8 52.4 L1501.6 52.2 L1503.4 52.1 L1505.3 52.2 L1507.1 52.4 L1508.9 52.8 L1510.7 53.3 L1512.6 53.9 L1514.4 54.7 L1516.2 55.6 L1518.1 56.6 L1519.9 57.8 L1521.7 59.1 L1523.5 60.6 L1525.4 62.1 L1527.2 63.8 L1529.0 65.7 L1530.9 67.6 L1532.7 69.7 L1534.5 71.9 L1536.4 74.3 L1538.2 76.7 L1540.0 79.3 L1541.8 82.0 L1543.7 84.8 L1545.5 87.7 L1547.3 90.7 L1549.2 93.9 L1551.0 97.1 L1552.8 100.5 L1554.6 104.0 L1556.5 107.5 L1558.3 111.2 L1560.1 115.0 L1562.0 118.8 L1563.8 122.8 L1565.6 126.8 L1567.4 131.0 L1569.3 135.2 L1571.1 139.6 L1572.9 144.0 L1574.8 148.5 L1576.6 153.1 L1578.4 157.7 L1580.2 162.5 L1582.1 167.3 L1583.9 172.2 L1585.7 177.2 L1587.6 182.2 L1589.4 187.3 L1591.2 192.5 L1593.1 197.8 L1594.9 203.1 L1596.7 208.4 L1598.5 213.9 L1600.4 219.4 L1602.2 224.9 L1604.0 230.5 L1605.9 236.2 L1607.7 241.9 L1609.5 247.7 L1611.3 253.5 L1613.2 259.4 L1615.0 265.3 L1616.8 271.2 L1618.7 277.2 L1620.5 283.3 L1622.3 289.4 L1624.1 295.5 L1626.0 301.6 L1627.8 307.8 L1629.6 314.1 L1631.5 320.4 L1633.3 326.7 L1635.1 333.0 L1636.9 339.4 L1638.8 345.8 L1640.6 352.2 L1642.4 358.7 L1644.3 365.2 L1646.1 371.7 L1647.9 378.2 L1649.8 384.8 L1651.6 391.4 L1653.4 398.0 L1655.2 404.6 L1657.1 411.2 L1658.9 417.9 L1660.7 424.6 L1662.6 431.3 L1664.4 438.0 L1666.2 444.8 L1668.0 451.5 L1669.9 458.3 L1671.7 465.1 L1673.5 471.9 L1675.4 478.7 L1677.2 485.5 L1679.0 492.3 L1680.8 499.2 L1682.7 506.1 L1684.5 512.9 L1686.3 519.8 L1688.2 526.7 L1690.0 533.6 L1691.8 540.5 L1693.6 547.4 L1695.5 554.3 L1697.3 561.3 L1699.1 568.2 L1701.0 575.1 L1702.8 582.1 L1704.6 589.0 L1706.4 596.0 L1708.3 603.0 L1710.1 609.9 L1711.9 616.9 L1713.8 623.9 L1715.6 630.9 L1717.4 637.9 L1719.3 644.9 L1721.1 651.9 L1722.9 658.9 L1724.7 665.9 L1726.6 673.0 L1728.4 680.0 L1730.2 687.0 L1732.1 694.1 L1733.9 701.1 L1735.7 708.2 L1737.5 715.2 L1739.4 722.3 L1741.2 729.4 L1743.0 736.5 L1744.9 743.6 L1746.7 750.7 L1748.5 757.8 L1750.3 764.9 L1752.2 772.0 L1754.0 779.1 L1755.8 786.3 L1757.7 793.4 L1759.5 800.6 L1761.3 807.8 L1763.1 815.0 L1765.0 822.2 L1766.8 829.4 L1768.6 836.6 L1770.5 843.8 L1772.3 851.1 L1774.1 858.4 L1776.0 865.6 L1777.8 872.9 L1779.6 880.2 L1781.4 887.5 L1783.3 894.9 L1785.1 902.2 L1786.9 909.6 L1788.8 916.9 L1790.6 924.3 L1792.4 931.7 L1794.2 939.1 L1796.1 946.5 L1797.9 953.9 L1799.7 961.3 L1801.6 968.7 L1803.4 976.2 L1805.2 983.6 L1807.0 991.0 L1808.9 998.5 L1810.7 1005.9 L1812.5 1013.4 L1814.4 1020.8 L1816.2 1028.3 L1818.0 1035.7 L1819.8 1043.2 L1821.7 1050.6 L1823.5 1058.0 L1825.3 1065.4 L1827.2 1072.8 L1829.0 1080.2 L1830.8 1087.6 L1832.6 1095.0 L1834.5 1102.3 L1836.3 1109.6 L1838.1 1116.9 L1840.0 1124.2 L1841.8 1131.5 L1843.6 1138.7 L1845.5 1145.9 L1847.3 1153.1 L1849.1 1160.2 L1850.9 1167.3 L1852.8 1174.4 L1854.6 1181.4 L1856.4 1188.3 L1858.3 1195.3 L1860.1 1202.1 L1861.9 1209.0 L1863.7 1215.7 L1865.6 1222.4 L1867.4 1229.1 L1869.2 1235.7 L1871.1 1242.2 L1872.9 1248.6 L1874.7 1255.0 L1876.5 1261.3 L1878.4 1267.5 L1880.2 1273.7 L1882.0 1279.7 L1883.9 1285.7 L1885.7 1291.5 L1887.5 1297.3 L1889.3 1303.0 L1891.2 1308.6 L1893.0 1314.0 L1894.8 1319.4 L1896.7 1324.7 L1898.5 1329.8 L1900.3 1334.8 L1902.2 1339.7 L1904.0 1344.5 L1905.8 1349.2 L1907.6 1353.8 L1909.5 1358.2 L1911.3 1362.5 L1913.1 1366.7 L1915.0 1370.7 L1916.8 1374.6 L1918.6 1378.4 L1920.4 1382.0 L1922.3 1385.5 L1924.1 1388.9 L1925.9 1392.1 L1927.8 1395.2 L1929.6 1398.1 L1931.4 1400.9 L1933.2 1403.6 L1935.1 1406.1 L1936.9 1408.5 L1938.7 1410.7 L1940.6 1412.8 L1942.4 1414.7 L1944.2 1416.5 L1946.0 1418.1 L1947.9 1419.6 L1949.7 1420.9 L1951.5 1422.1 L1953.4 1423.1 L1955.2 1424.0 L1957.0 1424.7 L1958.9 1425.3 L1960.7 1425.7 L1962.5 1426.0 L1964.3 1426.1 L1966.2 1426.1 L1968.0 1426.0 L1969.8 1425.7 L1971.7 1425.2 L1973.5 1424.6 L1975.3 1423.9 L1977.1 1423.0 L1979.0 1422.0 L1980.8 1420.8 L1982.6 1419.5 L1984.5 1418.1 L1986.3 1416.5 L1988.1 1414.8 L1989.9 1412.9 L1991.8 1410.9 L1993.6 1408.8 L1995.4 1406.6 L1997.3 1404.2 L1999.1 1401.7 L2000.9 1399.1 L2002.7 1396.4 L2004.6 1393.5 L2006.4 1390.6 L2008.2 1387.5 L2010.1 1384.3 L2011.9 1381.0 L2013.7 1377.6 L2015.5 1374.1 L2017.4 1370.4 L2019.2 1366.7 L2021.0 1362.9 L2022.9 1359.0 L2024.7 1355.0 L2026.5 1350.9 L2028.4 1346.7 L2030.2 1342.4 L2032.0 1338.0 L2033.8 1333.6 L2035.7 1329.1 L2037.5 1324.5 L2039.3 1319.8 L2041.2 1315.0 L2043.0 1310.2 L2044.8 1305.3 L2046.6 1300.3 L2048.5 1295.3 L2050.3 1290.2 L2052.1 1285.0 L2054.0 1279.8 L2055.8 1274.5 L2057.6 1269.2 L2059.4 1263.8 L2061.3 1258.4 L2063.1 1252.9 L2064.9 1247.3 L2066.8 1241.7 L2068.6 1236.1 L2070.4 1230.4 L2072.2 1224.7 L2074.1 1219.0 L2075.9 1213.2 L2077.7 1207.3 L2079.6 1201.5 L2081.4 1195.6 L2083.2 1189.7 L2085.1 1183.7 L2086.9 1177.8 L2088.7 1171.8 L2090.5 1165.7 L2092.4 1159.7 L2094.2 1153.6 L2096.0 1147.6 L2097.9 1141.5 L2099.7 1135.4 L2101.5 1129.3 L2103.3 1123.1 L2105.2 1117.0 L2107.0 1110.9"/>
<path stroke="#f00" stroke-dasharray="33.73 7.83 17.57 8.04" d="M278.0 749.1 L279.8 748.1 L281.7 747.1 L283.5 746.1 L285.3 745.0 L287.1 743.8 L289.0 742.6 L290.8 741.4 L292.6 740.1 L294.5 738.8 L296.3 737.4 L298.1 736.0 L299.9 734.5 L301.8 733.0 L303.6 731.4 L305.4 729.7 L307.3 728.0 L309.1 726.2 L310.9 724.3 L312.8 722.4 L314.6 720.4 L316.4 718.4 L318.2 716.3 L320.1 714.1 L321.9 711.8 L323.7 709.5 L325.6 707.1 L327.4 704.6 L329.2 702.1 L331.0 699.5 L332.9 696.8 L334.7 694.0 L336.5 691.1 L338.4 688.2 L340.2 685.2 L342.0 682.1 L343.8 678.9 L345.7 675.7 L347.5 672.4 L349.3 669.0 L351.2 665.5 L353.0 661.9 L354.8 658.3 L356.6 654.5 L358.5 650.7 L360.3 646.9 L362.1 642.9 L364.0 638.8 L365.8 634.7 L367.6 630.5 L369.4 626.2 L371.3 621.8 L373.1 617.4 L374.9 612.9 L376.8 608.3 L378.6 603.6 L380.4 598.8 L382.3 594.0 L384.1 589.1 L385.9 584.1 L387.7 579.0 L389.6 573.9 L391.4 568.7 L393.2 563.4 L395.1 558.0 L396.9 552.6 L398.7 547.1 L400.5 541.6 L402.4 535.9 L404.2 530.2 L406.0 524.5 L407.9 518.7 L409.7 512.8 L411.5 506.8 L413.3 500.8 L415.2 494.8 L417.0 488.7 L418.8 482.5 L420.7 476.3 L422.5 470.0 L424.3 463.7 L426.1 457.3 L428.0 450.9 L429.8 444.4 L431.6 437.9 L433.5 431.4 L435.3 424.8 L437.1 418.2 L439.0 411.5 L440.8 404.8 L442.6 398.1 L444.4 391.4 L446.3 384.6 L448.1 377.9 L449.9 371.1 L451.8 364.2 L453.6 357.4 L455.4 350.6 L457.2 343.8 L459.1 336.9 L460.9 330.1 L462.7 323.2 L464.6 316.4 L466.4 309.6 L468.2 302.8 L470.0 296.0 L471.9 289.3 L473.7 282.5 L475.5 275.8 L477.4 269.2 L479.2 262.5 L481.0 255.9 L482.8 249.4 L484.7 242.9 L486.5 236.5 L488.3 230.1 L490.2 223.8 L492.0 217.5 L493.8 211.4 L495.7 205.3 L497.5 199.3 L499.3 193.3 L501.1 187.5 L503.0 181.8 L504.8 176.1 L506.6 170.6 L508.5 165.1 L510.3 159.8 L512.1 154.5 L513.9 149.4 L515.8 144.4 L517.6 139.5 L519.4 134.7 L521.3 130.0 L523.1 125.5 L524.9 121.1 L526.7 116.8 L528.6 112.7 L530.4 108.6 L532.2 104.7 L534.1 101.0 L535.9 97.4 L537.7 93.9 L539.5 90.5 L541.4 87.3 L543.2 84.2 L545.0 81.3 L546.9 78.5 L548.7 75.8 L550.5 73.3 L552.3 70.9 L554.2 68.6 L556.0 66.5 L557.8 64.5 L559.7 62.7 L561.5 61.0 L563.3 59.5 L565.2 58.1 L567.0 56.8 L568.8 55.7 L570.6 54.7 L572.5 53.8 L574.3 53.1 L576.1 52.5 L578.0 52.0 L579.8 51.7 L581.6 51.6 L583.4 51.5 L585.3 51.6 L587.1 51.9 L588.9 52.2 L590.8 52.7 L592.6 53.3 L594.4 54.1 L596.2 55.0 L598.1 56.0 L599.9 57.2 L601.7 58.5 L603.6 59.9 L605.4 61.4 L607.2 63.1 L609.0 64.9 L610.9 66.8 L612.7 68.9 L614.5 71.0 L616.4 73.3 L618.2 75.7 L620.0 78.2 L621.9 80.9 L623.7 83.7 L625.5 86.5 L627.3 89.5 L629.2 92.6 L631.0 95.9 L632.8 99.2 L634.7 102.6 L636.5 106.2 L638.3 109.8 L640.1 113.6 L642.0 117.5 L643.8 121.4 L645.6 125.5 L647.5 129.7 L649.3 134.0 L651.1 138.3 L652.9 142.8 L654.8 147.3 L656.6 152.0 L658.4 156.7 L660.3 161.5 L662.1 166.4 L663.9 171.4 L665.7 176.5 L667.6 181.7 L669.4 186.9 L671.2 192.2 L673.1 197.6 L674.9 203.0 L676.7 208.6 L678.6 214.2 L680.4 219.8 L682.2 225.6 L684.0 231.3 L685.9 237.2 L687.7 243.1 L689.5 249.1 L691.4 255.1 L693.2 261.1 L695.0 267.2 L696.8 273.4 L698.7 279.6 L700.5 285.9 L702.3 292.1 L704.2 298.5 L706.0 304.8 L707.8 311.2 L709.6 317.7 L711.5 324.1 L713.3 330.6 L715.1 337.2 L717.0 343.7 L718.8 350.3 L720.6 356.9 L722.4 363.5 L724.3 370.2 L726.1 376.9 L727.9 383.6 L729.8 390.3 L731.6 397.0 L733.4 403.8 L735.2 410.5 L737.1 417.3 L738.9 424.1 L740.7 430.9 L742.6 437.7 L744.4 444.5 L746.2 451.4 L748.1 458.2 L749.9 465.1 L751.7 471.9 L753.5 478.8 L755.4 485.7 L757.2 492.6 L759.0 499.5 L760.9 506.4 L762.7 513.3 L764.5 520.2 L766.3 527.1 L768.2 534.0 L770.0 540.9 L771.8 547.9 L773.7 554.8 L775.5 561.7 L777.3 568.7 L779.1 575.6 L781.0 582.6 L782.8 589.6 L784.6 596.5 L786.5 603.5 L788.3 610.5 L790.1 617.5 L791.9 624.4 L793.8 631.4 L795.6 638.4 L797.4 645.5 L799.3 652.5 L801.1 659.5 L802.9 666.6 L804.8 673.6 L806.6 680.7 L808.4 687.8 L810.2 694.9 L812.1 702.0 L813.9 709.1 L815.7 716.2 L817.6 723.3 L819.4 730.5 L821.2 737.7 L823.0 744.8 L824.9 752.0 L826.7 759.2 L828.5 766.5 L830.4 773.7 L832.2 780.9 L834.0 788.2 L835.8 795.5 L837.7 802.7 L839.5 810.0 L841.3 817.4 L843.2 824.7 L845.0 832.0 L846.8 839.4 L848.6 846.7 L850.5 854.1 L852.3 861.5 L854.1 868.9 L856.0 876.3 L857.8 883.7 L859.6 891.1 L861.5 898.5 L863.3 906.0 L865.1 913.4 L866.9 920.9 L868.8 928.3 L870.6 935.8 L872.4 943.3 L874.3 950.7 L876.1 958.2 L877.9 965.7 L879.7 973.2 L881.6 980.7 L883.4 988.1 L885.2 995.6 L887.1 1003.1 L888.9 1010.6 L890.7 1018.0 L892.5 1025.5 L894.4 1033.0 L896.2 1040.4 L898.0 1047.9 L899.9 1055.3 L901.7 1062.7 L903.5 1070.1 L905.3 1077.5 L907.2 1084.9 L909.0 1092.3 L910.8 1099.6 L912.7 1106.9 L914.5 1114.2 L916.3 1121.5 L918.1 1128.7 L920.0 1136.0 L921.8 1143.1 L923.6 1150.3 L925.5 1157.4 L927.3 1164.5 L929.1 1171.6 L931.0 1178.6 L932.8 1185.6 L934.6 1192.5 L936.4 1199.4 L938.3 1206.2 L940.1 1213.0 L941.9 1219.7 L943.8 1226.4 L945.6 1233.0 L947.4 1239.5 L949.2 1246.0 L951.1 1252.4 L952.9 1258.8 L954.7 1265.1 L956.6 1271.3 L958.4 1277.4 L960.2 1283.4 L962.0 1289.4 L963.9 1295.2 L965.7 1301.0 L967.5 1306.7 L969.4 1312.3 L971.2 1317.8 L973.0 1323.2 L974.8 1328.5 L976.7 1333.6 L978.5 1338.7 L980.3 1343.6 L982.2 1348.5 L984.0 1353.2 L985.8 1357.7 L987.7 1362.2 L989.5 1366.5 L991.3 1370.7 L993.1 1374.8 L995.0 1378.7 L996.8 1382.5 L998.6 1386.1 L1000.5 1389.6 L1002.3 1393.0 L1004.1 1396.2 L1005.9 1399.3 L1007.8 1402.2 L1009.6 1405.0 L1011.4 1407.6 L1013.3 1410.1 L1015.1 1412.4 L1016.9 1414.6 L1018.7 1416.6 L1020.6 1418.5 L1022.4 1420.2 L1024.2 1421.8 L1026.1 1423.2 L1027.9 1424.5 L1029.7 1425.6 L1031.5 1426.5 L1033.4 1427.4 L1035.2 1428.0 L1037.0 1428.5 L1038.9 1428.9 L1040.7 1429.1 L1042.5 1429.2 L1044.4 1429.1 L1046.2 1428.9 L1048.0 1428.6 L1049.8 1428.1 L1051.7 1427.4 L1053.5 1426.7 L1055.3 1425.7 L1057.2 1424.7 L1059.0 1423.5 L1060.8 1422.2 L1062.6 1420.7 L1064.5 1419.2 L1066.3 1417.4 L1068.1 1415.6 L1070.0 1413.6 L1071.8 1411.6 L1073.6 1409.3 L1075.4 1407.0 L1077.3 1404.6 L1079.1 1402.0 L1080.9 1399.3 L1082.8 1396.5 L1084.6 1393.6 L1086.4 1390.5 L1088.2 1387.4 L1090.1 1384.2 L1091.9 1380.8 L1093.7 1377.3 L1095.6 1373.8 L1097.4 1370.1 L1099.2 1366.3 L1101.1 1362.5 L1102.9 1358.5 L1104.7 1354.4 L1106.5 1350.3 L1108.4 1346.0 L1110.2 1341.7 L1112.0 1337.3 L1113.9 1332.8 L1115.7 1328.2 L1117.5 1323.5 L1119.3 1318.8 L1121.2 1313.9 L1123.0 1309.0 L1124.8 1304.1 L1126.7 1299.0 L1128.5 1293.9 L1130.3 1288.7 L1132.1 1283.4 L1134.0 1278.1 L1135.8 1272.7 L1137.6 1267.2 L1139.5 1261.7 L1141.3 1256.1 L1143.1 1250.5 L1144.9 1244.8 L1146.8 1239.1 L1148.6 1233.3 L1150.4 1227.4 L1152.3 1221.5 L1154.1 1215.6 L1155.9 1209.6 L1157.7 1203.6 L1159.6 1197.5 L1161.4 1191.3 L1163.2 1185.2 L1165.1 1179.0 L1166.9 1172.7 L1168.7 1166.4 L1170.6 1160.1 L1172.4 1153.8 L1174.2 1147.4 L1176.0 1140.9 L1177.9 1134.5 L1179.7 1128.0 L1181.5 1121.5 L1183.4 1114.9 L1185.2 1108.3 L1187.0 1101.7 L1188.8 1095.1 L1190.7 1088.4 L1192.5 1081.8 L1194.3 1075.1 L1196.2 1068.3 L1198.0 1061.6 L1199.8 1054.8 L1201.6 1048.0 L1203.5 1041.2 L1205.3 1034.4 L1207.1 1027.6 L1209.0 1020.7 L1210.8 1013.8 L1212.6 1006.9 L1214.4 1000.0 L1216.3 993.1 L1218.1 986.2 L1219.9 979.2 L1221.8 972.3 L1223.6 965.3 L1225.4 958.3 L1227.3 951.3 L1229.1 944.3 L1230.9 937.3 L1232.7 930.3 L1234.6 923.2 L1236.4 916.2 L1238.2 909.1 L1240.1 902.1 L1241.9 895.0 L1243.7 887.9 L1245.5 880.9 L1247.4 873.8 L1249.2 866.7 L1251.0 859.6 L1252.9 852.5 L1254.7 845.3 L1256.5 838.2 L1258.3 831.1 L1260.2 824.0 L1262.0 816.8 L1263.8 809.7 L1265.7 802.5 L1267.5 795.4 L1269.3 788.2 L1271.1 781.0 L1273.0 773.9 L1274.8 766.7 L1276.6 759.5 L1278.5 752.3 L1280.3 745.1 L1282.1 737.9 L1284.0 730.7 L1285.8 723.5 L1287.6 716.3 L1289.4 709.1 L1291.3 701.9 L1293.1 694.6 L1294.9 687.4 L1296.8 680.2 L1298.6 672.9 L1300.4 665.6 L1302.2 658.4 L1304.1 651.1 L1305.9 643.8 L1307.7 636.5 L1309.6 629.2 L1311.4 621.9 L1313.2 614.6 L1315.0 607.2 L1316.9 599.9 L1318.7 592.5 L1320.5 585.2 L1322.4 577.8 L1324.2 570.4 L1326.0 563.1 L1327.8 555.7 L1329.7 548.3 L1331.5 540.9 L1333.3 533.4 L1335.2 526.0 L1337.0 518.6 L1338.8 511.2 L1340.6 503.7 L1342.5 496.3 L1344.3 488.8 L1346.1 481.4 L1348.0 474.0 L1349.8 466.5 L1351.6 459.1 L1353.5 451.6 L1355.3 444.2 L1357.1 436.8 L1358.9 429.3 L1360.8 421.9 L1362.6 414.5 L1364.4 407.1 L1366.3 399.7 L1368.1 392.3 L1369.9 385.0 L1371.7 377.6 L1373.6 370.3 L1375.4 363.0 L1377.2 355.7 L1379.1 348.5 L1380.9 341.2 L1382.7 334.0 L1384.5 326.8 L1386.4 319.7 L1388.2 312.6 L1390.0 305.5 L1391.9 298.4 L1393.7 291.4 L1395.5 284.5 L1397.3 277.6 L1399.2 270.7 L1401.0 263.9 L1402.8 257.1 L1404.7 250.4 L1406.5 243.8 L1408.3 237.2 L1410.2 230.6 L1412.0 224.2 L1413.8 217.8 L1415.6 211.5 L1417.5 205.2 L1419.3 199.1 L1421.1 193.0 L1423.0 187.0 L1424.8 181.1 L1426.6 175.2 L1428.4 169.5 L1430.3 163.9 L1432.1 158.4 L1433.9 152.9 L1435.8 147.6 L1437.6 142.4 L1439.4 137.3 L1441.2 132.3 L1443.1 127.5 L1444.9 122.8 L1446.7 118.1 L1448.6 113.7 L1450.4 109.3 L1452.2 105.1 L1454.0 101.0 L1455.9 97.1 L1457.7 93.3 L1459.5 89.6 L1461.4 86.1 L1463.2 82.7 L1465.0 79.5 L1466.9 76.4 L1468.7 73.4 L1470.5 70.6 L1472.3 68.0 L1474.2 65.5 L1476.0 63.1 L1477.8 60.9 L1479.7 58.9 L1481.5 57.0 L1483.3 55.3 L1485.1 53.7 L1487.0 52.2 L1488.8 51.0 L1490.6 49.8 L1492.5 48.9 L1494.3 48.0 L1496.1 47.4 L1497.9 46.8 L1499.8 46.5 L1501.6 46.2 L1503.4 46.2 L1505.3 46.2 L1507.1 46.4 L1508.9 46.8 L1510.7 47.3 L1512.6 47.9 L1514.4 48.7 L1516.2 49.6 L1518.1 50.7 L1519.9 51.9 L1521.7 53.2 L1523.5 54.7 L1525.4 56.3 L1527.2 58.0 L1529.0 59.8 L1530.9 61.8 L1532.7 63.9 L1534.5 66.1 L1536.4 68.5 L1538.2 71.0 L1540.0 73.6 L1541.8 76.3 L1543.7 79.1 L1545.5 82.1 L1547.3 85.1 L1549.2 88.3 L1551.0 91.6 L1552.8 94.9 L1554.6 98.4 L1556.5 102.0 L1558.3 105.7 L1560.1 109.5 L1562.0 113.4 L1563.8 117.4 L1565.6 121.5 L1567.4 125.7 L1569.3 130.0 L1571.1 134.4 L1572.9 138.8 L1574.8 143.3 L1576.6 148.0 L1578.4 152.7 L1580.2 157.5 L1582.1 162.3 L1583.9 167.3 L1585.7 172.3 L1587.6 177.4 L1589.4 182.5 L1591.2 187.7 L1593.1 193.0 L1594.9 198.4 L1596.7 203.8 L1598.5 209.3 L1600.4 214.8 L1602.2 220.4 L1604.0 226.1 L1605.9 231.8 L1607.7 237.6 L1609.5 243.4 L1611.3 249.2 L1613.2 255.2 L1615.0 261.1 L1616.8 267.1 L1618.7 273.2 L1620.5 279.3 L1622.3 285.4 L1624.1 291.6 L1626.0 297.8 L1627.8 304.1 L1629.6 310.4 L1631.5 316.7 L1633.3 323.1 L1635.1 329.4 L1636.9 335.9 L1638.8 342.3 L1640.6 348.8 L1642.4 355.3 L1644.3 361.9 L1646.1 368.4 L1647.9 375.0 L1649.8 381.7 L1651.6 388.3 L1653.4 395.0 L1655.2 401.6 L1657.1 408.4 L1658.9 415.1 L1660.7 421.8 L1662.6 428.6 L1664.4 435.4 L1666.2 442.2 L1668.0 449.0 L1669.9 455.8 L1671.7 462.7 L1673.5 469.5 L1675.4 476.4 L1677.2 483.3 L1679.0 490.2 L1680.8 497.1 L1682.7 504.0 L1684.5 510.9 L1686.3 517.8 L1688.2 524.8 L1690.0 531.7 L1691.8 538.7 L1693.6 545.7 L1695.5 552.7 L1697.3 559.7 L1699.1 566.6 L1701.0 573.7 L1702.8 580.7 L1704.6 587.7 L1706.4 594.7 L1708.3 601.7 L1710.1 608.8 L1711.9 615.8 L1713.8 622.8 L1715.6 629.9 L1717.4 637.0 L1719.3 644.0 L1721.1 651.1 L1722.9 658.2 L1724.7 665.2 L1726.6 672.3 L1728.4 679.4 L1730.2 686.5 L1732.1 693.6 L1733.9 700.7 L1735.7 707.8 L1737.5 715.0 L1739.4 722.1 L1741.2 729.2 L1743.0 736.4 L1744.9 743.5 L1746.7 750.7 L1748.5 757.8 L1750.3 765.0 L1752.2 772.2 L1754.0 779.4 L1755.8 786.6 L1757.7 793.8 L1759.5 801.0 L1761.3 808.3 L1763.1 815.5 L1765.0 822.8 L1766.8 830.1 L1768.6 837.4 L1770.5 844.7 L1772.3 852.0 L1774.1 859.3 L1776.0 866.6 L1777.8 874.0 L1779.6 881.4 L1781.4 888.7 L1783.3 896.1 L1785.1 903.5 L1786.9 910.9 L1788.8 918.4 L1790.6 925.8 L1792.4 933.2 L1794.2 940.7 L1796.1 948.2 L1797.9 955.6 L1799.7 963.1 L1801.6 970.6 L1803.4 978.1 L1805.2 985.6 L1807.0 993.1 L1808.9 1000.6 L1810.7 1008.1 L1812.5 1015.7 L1814.4 1023.2 L1816.2 1030.7 L1818.0 1038.2 L1819.8 1045.7 L1821.7 1053.2 L1823.5 1060.7 L1825.3 1068.1 L1827.2 1075.6 L1829.0 1083.1 L1830.8 1090.5 L1832.6 1097.9 L1834.5 1105.4 L1836.3 1112.7 L1838.1 1120.1 L1840.0 1127.5 L1841.8 1134.8 L1843.6 1142.1 L1845.5 1149.3 L1847.3 1156.6 L1849.1 1163.7 L1850.9 1170.9 L1852.8 1178.0 L1854.6 1185.1 L1856.4 1192.1 L1858.3 1199.1 L1860.1 1206.0 L1861.9 1212.9 L1863.7 1219.7 L1865.6 1226.5 L1867.4 1233.2 L1869.2 1239.9 L1871.1 1246.4 L1872.9 1252.9 L1874.7 1259.4 L1876.5 1265.7 L1878.4 1272.0 L1880.2 1278.2 L1882.0 1284.3 L1883.9 1290.3 L1885.7 1296.2 L1887.5 1302.0 L1889.3 1307.7 L1891.2 1313.4 L1893.0 1318.9 L1894.8 1324.3 L1896.7 1329.6 L1898.5 1334.8 L1900.3 1339.9 L1902.2 1344.8 L1904.0 1349.7 L1905.8 1354.4 L1907.6 1359.0 L1909.5 1363.4 L1911.3 1367.8 L1913.1 1372.0 L1915.0 1376.0 L1916.8 1380.0 L1918.6 1383.8 L1920.4 1387.5 L1922.3 1391.0 L1924.1 1394.4 L1925.9 1397.6 L1927.8 1400.8 L1929.6 1403.7 L1931.4 1406.5 L1933.2 1409.2 L1935.1 1411.7 L1936.9 1414.1 L1938.7 1416.4 L1940.6 1418.5 L1942.4 1420.4 L1944.2 1422.2 L1946.0 1423.8 L1947.9 1425.3 L1949.7 1426.7 L1951.5 1427.8 L1953.4 1428.9 L1955.2 1429.8 L1957.0 1430.5 L1958.9 1431.1 L1960.7 1431.5 L1962.5 1431.8 L1964.3 1432.0 L1966.2 1431.9 L1968.0 1431.8 L1969.8 1431.5 L1971.7 1431.0 L1973.5 1430.4 L1975.3 1429.7 L1977.1 1428.8 L1979.0 1427.8 L1980.8 1426.6 L1982.6 1425.3 L1984.5 1423.8 L1986.3 1422.2 L1988.1 1420.5 L1989.9 1418.6 L1991.8 1416.6 L1993.6 1414.5 L1995.4 1412.2 L1997.3 1409.9 L1999.1 1407.3 L2000.9 1404.7 L2002.7 1401.9 L2004.6 1399.1 L2006.4 1396.1 L2008.2 1393.0 L2010.1 1389.7 L2011.9 1386.4 L2013.7 1383.0 L2015.5 1379.4 L2017.4 1375.8 L2019.2 1372.0 L2021.0 1368.2 L2022.9 1364.2 L2024.7 1360.2 L2026.5 1356.0 L2028.4 1351.8 L2030.2 1347.5 L2032.0 1343.1 L2033.8 1338.6 L2035.7 1334.1 L2037.5 1329.4 L2039.3 1324.7 L2041.2 1319.9 L2043.0 1315.0 L2044.8 1310.1 L2046.6 1305.1 L2048.5 1300.0 L2050.3 1294.8 L2052.1 1289.6 L2054.0 1284.4 L2055.8 1279.0 L2057.6 1273.7 L2059.4 1268.2 L2061.3 1262.7 L2063.1 1257.2 L2064.9 1251.6 L2066.8 1246.0 L2068.6 1240.3 L2070.4 1234.6 L2072.2 1228.8 L2074.1 1223.0 L2075.9 1217.2 L2077.7 1211.3 L2079.6 1205.4 L2081.4 1199.4 L2083.2 1193.5 L2085.1 1187.5 L2086.9 1181.4 L2088.7 1175.4 L2090.5 1169.3 L2092.4 1163.2 L2094.2 1157.1 L2096.0 1151.0 L2097.9 1144.8 L2099.7 1138.7 L2101.5 1132.5 L2103.3 1126.4 L2105.2 1120.2 L2107.0 1114.0"/>
</g>
<rect x="1351.3" y="41.1" width="296.7" height="163.9" fill="none" stroke="#000" stroke-width="4.2"/>
<line x1="1495.9" y1="228" x2="1503.5" y2="910" stroke="#000" stroke-width="3.9"/>
<path d="M1503.9 948.2 L1481 890.6 L1481 889 L1484.6 889 L1500.6 904.6 L1506.4 904.6 L1524.2 887.8 L1527.2 890.5 Z" fill="#000"/>
<g fill="none" stroke-width="12.3">
<line x1="286.2" x2="413.8" y1="1166.8" y2="1166.8" stroke="#000"/>
<line x1="286.2" x2="413.8" y1="1247.8" y2="1247.8" stroke="#0f0"/>
<line x1="286.2" x2="413.8" y1="1329.8" y2="1329.8" stroke="#00f" stroke-dasharray="34 34"/>
<line x1="286.2" x2="413.8" y1="1411.2" y2="1411.2" stroke="#f00" stroke-dasharray="34.3 7.5 17.8 8.4"/>
</g>
<rect x="1331.5" y="971.5" width="409.0" height="335.8" fill="#fff"/>
<g stroke="#262626" stroke-opacity="0.15" stroke-width="3.6" fill="none">
<line x1="1438.2" y1="971.5" x2="1438.2" y2="1307.2"/>
<line x1="1647.5" y1="971.5" x2="1647.5" y2="1307.2"/>
<line x1="1331.5" y1="1077.5" x2="1740.5" y2="1077.5"/>
<line x1="1331.5" y1="1185.0" x2="1740.5" y2="1185.0"/>
<line x1="1331.5" y1="1292.5" x2="1740.5" y2="1292.5"/>
</g>
<g stroke="#262626" stroke-width="3.2" fill="none">
<rect x="1331.5" y="971.5" width="409.0" height="335.8"/>
<line x1="1438.2" y1="1307.2" x2="1438.2" y2="1301.2"/>
<line x1="1438.2" y1="971.5" x2="1438.2" y2="977.5"/>
<line x1="1647.5" y1="1307.2" x2="1647.5" y2="1301.2"/>
<line x1="1647.5" y1="971.5" x2="1647.5" y2="977.5"/>
<line x1="1331.5" y1="1077.5" x2="1337.5" y2="1077.5"/>
<line x1="1740.5" y1="1077.5" x2="1734.5" y2="1077.5"/>
<line x1="1331.5" y1="1185.0" x2="1337.5" y2="1185.0"/>
<line x1="1740.5" y1="1185.0" x2="1734.5" y2="1185.0"/>
<line x1="1331.5" y1="1292.5" x2="1337.5" y2="1292.5"/>
<line x1="1740.5" y1="1292.5" x2="1734.5" y2="1292.5"/>
</g>
<g fill="none" stroke-width="12.5" stroke-linejoin="round">
<path stroke="#000" d="M1343.2 1307.2 L1354.6 1252.7 L1396.4 1100.1 L1438.2 1154.9 L1480.1 1044.2 L1521.9 1232.3 L1563.8 1117.3 L1605.6 1240.9 L1647.5 1154.9 L1689.4 1302.7 L1731.2 1220.5 L1740.5 1224.5"/>
<path stroke="#0f0" d="M1331.5 1306.9 L1333.1 1304.7 L1336.3 1300.2 L1339.4 1295.8 L1342.6 1291.4 L1345.7 1287.1 L1348.9 1282.8 L1352.0 1278.6 L1355.2 1274.5 L1358.3 1270.4 L1361.5 1266.3 L1364.6 1262.3 L1367.8 1258.3 L1371.0 1254.5 L1374.1 1250.6 L1377.3 1246.8 L1380.4 1243.1 L1383.6 1239.5 L1386.7 1235.9 L1389.9 1232.3 L1393.0 1228.8 L1396.2 1225.4 L1399.3 1222.1 L1402.5 1218.8 L1405.7 1215.6 L1408.8 1212.4 L1412.0 1209.3 L1415.1 1206.3 L1418.3 1203.4 L1421.4 1200.5 L1424.6 1197.7 L1427.7 1194.9 L1430.9 1192.3 L1434.0 1189.7 L1437.2 1187.1 L1440.4 1184.7 L1443.5 1182.3 L1446.7 1180.0 L1449.8 1177.7 L1453.0 1175.6 L1456.1 1173.5 L1459.3 1171.5 L1462.4 1169.5 L1465.6 1167.7 L1468.7 1165.9 L1471.9 1164.2 L1475.1 1162.5 L1478.2 1161.0 L1481.4 1159.5 L1484.5 1158.1 L1487.7 1156.8 L1490.8 1155.5 L1494.0 1154.4 L1497.1 1153.3 L1500.3 1152.3 L1503.4 1151.3 L1506.6 1150.5 L1509.8 1149.7 L1512.9 1149.0 L1516.1 1148.4 L1519.2 1147.9 L1522.4 1147.4 L1525.5 1147.0 L1528.7 1146.7 L1531.8 1146.5 L1535.0 1146.4 L1538.1 1146.3 L1541.3 1146.4 L1544.5 1146.5 L1547.6 1146.7 L1550.8 1146.9 L1553.9 1147.3 L1557.1 1147.7 L1560.2 1148.2 L1563.4 1148.8 L1566.5 1149.4 L1569.7 1150.2 L1572.8 1151.0 L1576.0 1151.9 L1579.2 1152.8 L1582.3 1153.9 L1585.5 1155.0 L1588.6 1156.2 L1591.8 1157.5 L1594.9 1158.8 L1598.1 1160.3 L1601.2 1161.8 L1604.4 1163.4 L1607.5 1165.0 L1610.7 1166.8 L1613.9 1168.6 L1617.0 1170.4 L1620.2 1172.4 L1623.3 1174.4 L1626.5 1176.5 L1629.6 1178.7 L1632.8 1180.9 L1635.9 1183.2 L1639.1 1185.6 L1642.2 1188.0 L1645.4 1190.5 L1648.6 1193.1 L1651.7 1195.8 L1654.9 1198.5 L1658.0 1201.2 L1661.2 1204.1 L1664.3 1207.0 L1667.5 1210.0 L1670.6 1213.0 L1673.8 1216.1 L1676.9 1219.2 L1680.1 1222.4 L1683.3 1225.7 L1686.4 1229.0 L1689.6 1232.4 L1692.7 1235.9 L1695.9 1239.4 L1699.0 1242.9 L1702.2 1246.5 L1705.3 1250.2 L1708.5 1253.9 L1711.6 1257.7 L1714.8 1261.5 L1718.0 1265.3 L1721.1 1269.2 L1724.3 1273.2 L1727.4 1277.2 L1730.6 1281.2 L1733.7 1285.3 L1736.9 1289.4 L1740.0 1293.6 L1740.5 1294.2"/>
<path stroke="#00f" stroke-dasharray="33.25 33.25" d="M1331.5 1300.5 L1333.1 1298.2 L1336.3 1293.7 L1339.4 1289.3 L1342.6 1285.0 L1345.7 1280.7 L1348.9 1276.4 L1352.0 1272.2 L1355.2 1268.0 L1358.3 1263.9 L1361.5 1259.8 L1364.6 1255.8 L1367.8 1251.9 L1371.0 1248.0 L1374.1 1244.2 L1377.3 1240.4 L1380.4 1236.7 L1383.6 1233.0 L1386.7 1229.4 L1389.9 1225.9 L1393.0 1222.4 L1396.2 1219.0 L1399.3 1215.6 L1402.5 1212.4 L1405.7 1209.1 L1408.8 1206.0 L1412.0 1202.9 L1415.1 1199.9 L1418.3 1196.9 L1421.4 1194.0 L1424.6 1191.2 L1427.7 1188.5 L1430.9 1185.8 L1434.0 1183.2 L1437.2 1180.7 L1440.4 1178.2 L1443.5 1175.8 L1446.7 1173.5 L1449.8 1171.3 L1453.0 1169.1 L1456.1 1167.0 L1459.3 1165.0 L1462.4 1163.1 L1465.6 1161.2 L1468.7 1159.4 L1471.9 1157.7 L1475.1 1156.1 L1478.2 1154.5 L1481.4 1153.0 L1484.5 1151.6 L1487.7 1150.3 L1490.8 1149.1 L1494.0 1147.9 L1497.1 1146.8 L1500.3 1145.8 L1503.4 1144.9 L1506.6 1144.0 L1509.8 1143.3 L1512.9 1142.6 L1516.1 1142.0 L1519.2 1141.4 L1522.4 1141.0 L1525.5 1140.6 L1528.7 1140.3 L1531.8 1140.1 L1535.0 1139.9 L1538.1 1139.9 L1541.3 1139.9 L1544.5 1140.0 L1547.6 1140.2 L1550.8 1140.5 L1553.9 1140.8 L1557.1 1141.2 L1560.2 1141.7 L1563.4 1142.3 L1566.5 1143.0 L1569.7 1143.7 L1572.8 1144.5 L1576.0 1145.4 L1579.2 1146.4 L1582.3 1147.4 L1585.5 1148.6 L1588.6 1149.8 L1591.8 1151.0 L1594.9 1152.4 L1598.1 1153.8 L1601.2 1155.3 L1604.4 1156.9 L1607.5 1158.6 L1610.7 1160.3 L1613.9 1162.1 L1617.0 1164.0 L1620.2 1165.9 L1623.3 1168.0 L1626.5 1170.0 L1629.6 1172.2 L1632.8 1174.4 L1635.9 1176.8 L1639.1 1179.1 L1642.2 1181.6 L1645.4 1184.1 L1648.6 1186.7 L1651.7 1189.3 L1654.9 1192.0 L1658.0 1194.8 L1661.2 1197.6 L1664.3 1200.5 L1667.5 1203.5 L1670.6 1206.5 L1673.8 1209.6 L1676.9 1212.8 L1680.1 1216.0 L1683.3 1219.3 L1686.4 1222.6 L1689.6 1226.0 L1692.7 1229.4 L1695.9 1232.9 L1699.0 1236.5 L1702.2 1240.1 L1705.3 1243.7 L1708.5 1247.4 L1711.6 1251.2 L1714.8 1255.0 L1718.0 1258.9 L1721.1 1262.8 L1724.3 1266.7 L1727.4 1270.7 L1730.6 1274.8 L1733.7 1278.8 L1736.9 1283.0 L1740.0 1287.1 L1740.5 1287.8"/>
<path stroke="#f00" stroke-dasharray="33.4 7.8 17.3 8" d="M1331.5 1259.6 L1333.1 1257.3 L1336.3 1252.9 L1339.4 1248.5 L1342.6 1244.2 L1345.7 1240.0 L1348.9 1235.7 L1352.0 1231.6 L1355.2 1227.5 L1358.3 1223.4 L1361.5 1219.4 L1364.6 1215.4 L1367.8 1211.5 L1371.0 1207.7 L1374.1 1203.9 L1377.3 1200.2 L1380.4 1196.5 L1383.6 1192.9 L1386.7 1189.4 L1389.9 1185.9 L1393.0 1182.4 L1396.2 1179.1 L1399.3 1175.8 L1402.5 1172.6 L1405.7 1169.4 L1408.8 1166.3 L1412.0 1163.3 L1415.1 1160.3 L1418.3 1157.4 L1421.4 1154.6 L1424.6 1151.8 L1427.7 1149.1 L1430.9 1146.5 L1434.0 1144.0 L1437.2 1141.5 L1440.4 1139.1 L1443.5 1136.8 L1446.7 1134.5 L1449.8 1132.4 L1453.0 1130.2 L1456.1 1128.2 L1459.3 1126.3 L1462.4 1124.4 L1465.6 1122.6 L1468.7 1120.9 L1471.9 1119.2 L1475.1 1117.6 L1478.2 1116.2 L1481.4 1114.7 L1484.5 1113.4 L1487.7 1112.1 L1490.8 1111.0 L1494.0 1109.9 L1497.1 1108.9 L1500.3 1107.9 L1503.4 1107.0 L1506.6 1106.3 L1509.8 1105.6 L1512.9 1104.9 L1516.1 1104.4 L1519.2 1103.9 L1522.4 1103.6 L1525.5 1103.3 L1528.7 1103.0 L1531.8 1102.9 L1535.0 1102.8 L1538.1 1102.9 L1541.3 1103.0 L1544.5 1103.1 L1547.6 1103.4 L1550.8 1103.7 L1553.9 1104.2 L1557.1 1104.7 L1560.2 1105.2 L1563.4 1105.9 L1566.5 1106.6 L1569.7 1107.4 L1572.8 1108.3 L1576.0 1109.3 L1579.2 1110.4 L1582.3 1111.5 L1585.5 1112.7 L1588.6 1114.0 L1591.8 1115.3 L1594.9 1116.8 L1598.1 1118.3 L1601.2 1119.9 L1604.4 1121.6 L1607.5 1123.3 L1610.7 1125.1 L1613.9 1127.0 L1617.0 1129.0 L1620.2 1131.0 L1623.3 1133.1 L1626.5 1135.3 L1629.6 1137.5 L1632.8 1139.8 L1635.9 1142.2 L1639.1 1144.7 L1642.2 1147.2 L1645.4 1149.8 L1648.6 1152.5 L1651.7 1155.2 L1654.9 1158.0 L1658.0 1160.9 L1661.2 1163.8 L1664.3 1166.8 L1667.5 1169.9 L1670.6 1173.0 L1673.8 1176.1 L1676.9 1179.4 L1680.1 1182.7 L1683.3 1186.0 L1686.4 1189.5 L1689.6 1192.9 L1692.7 1196.4 L1695.9 1200.0 L1699.0 1203.7 L1702.2 1207.4 L1705.3 1211.1 L1708.5 1214.9 L1711.6 1218.7 L1714.8 1222.6 L1718.0 1226.6 L1721.1 1230.6 L1724.3 1234.6 L1727.4 1238.7 L1730.6 1242.8 L1733.7 1246.9 L1736.9 1251.1 L1740.0 1255.4 L1740.5 1256.0"/>
</g>
<g font-family="'Liberation Serif', serif" fill="#262626" stroke="#262626" stroke-width="0.6">
<g font-size="80.0" text-anchor="end">
<text x="251.0" y="68.3">40</text>
<text x="251.0" y="421.9">20</text>
<text x="251.0" y="775.5">0</text>
<text x="249.5" y="1129.2">20</text>
<text transform="translate(121.6 1125.1) scale(1.37 1)" font-size="66" text-anchor="start">−</text>
<text x="249.5" y="1482.8">40</text>
<text transform="translate(121.6 1478.7) scale(1.37 1)" font-size="66" text-anchor="start">−</text>
<text x="1304.2" y="1105.1">40</text>
<text x="1304.2" y="1212.6">39</text>
<text x="1304.2" y="1320.1">38</text>
</g>
<g font-size="80.0" text-anchor="middle">
<text x="277.5" y="1556.3" letter-spacing="0.0">0</text>
<text x="641.3" y="1556.3" letter-spacing="0.0">5</text>
<text x="1009.5" y="1556.3" letter-spacing="-1.0">10</text>
<text x="1373.7" y="1556.3" letter-spacing="-2.4">15</text>
<text x="1740.4" y="1556.3" letter-spacing="0.8">20</text>
<text x="2104.2" y="1556.3" letter-spacing="-0.6">25</text>
<text x="1436.8" y="1408.9" letter-spacing="-1.7">16.5</text>
<text x="1645.5" y="1408.9" letter-spacing="-3.6">17</text>
</g>
<text x="1189" y="1659.8" font-size="83.5" text-anchor="middle" letter-spacing="1.5">Time/s</text>
<text transform="translate(86.6 751.2) rotate(-90)" font-size="83.5" text-anchor="middle" letter-spacing="0.8">Heading angle/°</text>
</g>
<g font-family="'Liberation Serif', serif" font-size="67.0" fill="#000" stroke="#000" stroke-width="0.9">
<text x="426.5" y="1188.2">Original</text>
<text x="426.5" y="1272.6">CH-LS-SVM</text>
<text x="426.5" y="1353.2">CH-WLS-SVM</text>
<text x="426.5" y="1436.8">CH-MK-WLS-SVM</text>
</g>
</svg>
</body></html>
